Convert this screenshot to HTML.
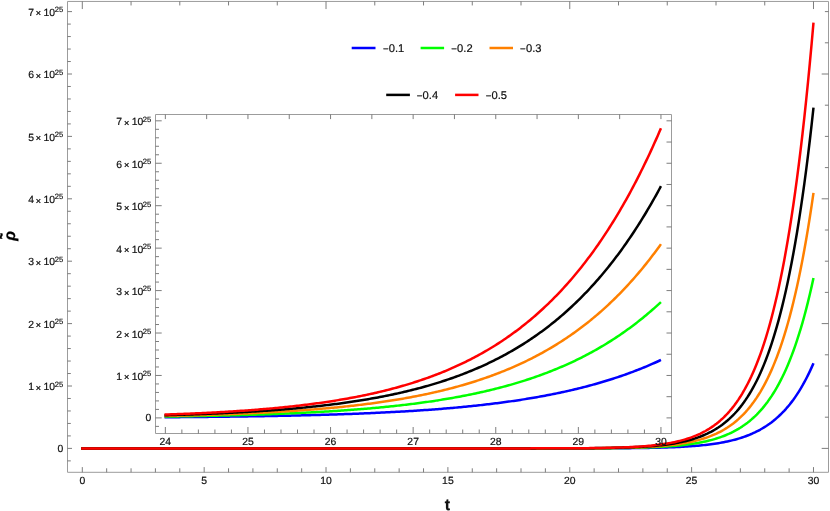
<!DOCTYPE html>
<html lang="en">
<head>
<meta charset="utf-8">
<title>Plot</title>
<style>
html,body{margin:0;padding:0;background:#ffffff;}
body{width:830px;height:511px;overflow:hidden;font-family:"Liberation Sans", sans-serif;}
svg{display:block;will-change:transform;text-rendering:geometricPrecision;}
text{font-family:"Liberation Sans", sans-serif;}
</style>
</head>
<body>
<svg width="830" height="511" viewBox="0 0 830 511">
<rect x="0" y="0" width="830" height="511" fill="#ffffff"/>
<g id="main-frame" fill="none">
<path d="M67.5 1.45L828.5 1.45L828.5 472.3L67.5 472.3Z" stroke="#9c9c9c" stroke-width="1" fill="none" stroke-linejoin="miter"/>
<line x1="82.3" y1="472.3" x2="82.3" y2="467.1" stroke="#6e6e6e" stroke-width="0.9"/>
<line x1="106.67" y1="472.3" x2="106.67" y2="468.3" stroke="#6e6e6e" stroke-width="0.9"/>
<line x1="131.05" y1="472.3" x2="131.05" y2="468.3" stroke="#6e6e6e" stroke-width="0.9"/>
<line x1="155.42" y1="472.3" x2="155.42" y2="468.3" stroke="#6e6e6e" stroke-width="0.9"/>
<line x1="179.79" y1="472.3" x2="179.79" y2="468.3" stroke="#6e6e6e" stroke-width="0.9"/>
<line x1="204.17" y1="472.3" x2="204.17" y2="467.1" stroke="#6e6e6e" stroke-width="0.9"/>
<line x1="228.54" y1="472.3" x2="228.54" y2="468.3" stroke="#6e6e6e" stroke-width="0.9"/>
<line x1="252.91" y1="472.3" x2="252.91" y2="468.3" stroke="#6e6e6e" stroke-width="0.9"/>
<line x1="277.28" y1="472.3" x2="277.28" y2="468.3" stroke="#6e6e6e" stroke-width="0.9"/>
<line x1="301.66" y1="472.3" x2="301.66" y2="468.3" stroke="#6e6e6e" stroke-width="0.9"/>
<line x1="326.03" y1="472.3" x2="326.03" y2="467.1" stroke="#6e6e6e" stroke-width="0.9"/>
<line x1="350.4" y1="472.3" x2="350.4" y2="468.3" stroke="#6e6e6e" stroke-width="0.9"/>
<line x1="374.78" y1="472.3" x2="374.78" y2="468.3" stroke="#6e6e6e" stroke-width="0.9"/>
<line x1="399.15" y1="472.3" x2="399.15" y2="468.3" stroke="#6e6e6e" stroke-width="0.9"/>
<line x1="423.52" y1="472.3" x2="423.52" y2="468.3" stroke="#6e6e6e" stroke-width="0.9"/>
<line x1="447.9" y1="472.3" x2="447.9" y2="467.1" stroke="#6e6e6e" stroke-width="0.9"/>
<line x1="472.27" y1="472.3" x2="472.27" y2="468.3" stroke="#6e6e6e" stroke-width="0.9"/>
<line x1="496.64" y1="472.3" x2="496.64" y2="468.3" stroke="#6e6e6e" stroke-width="0.9"/>
<line x1="521.01" y1="472.3" x2="521.01" y2="468.3" stroke="#6e6e6e" stroke-width="0.9"/>
<line x1="545.39" y1="472.3" x2="545.39" y2="468.3" stroke="#6e6e6e" stroke-width="0.9"/>
<line x1="569.76" y1="472.3" x2="569.76" y2="467.1" stroke="#6e6e6e" stroke-width="0.9"/>
<line x1="594.13" y1="472.3" x2="594.13" y2="468.3" stroke="#6e6e6e" stroke-width="0.9"/>
<line x1="618.51" y1="472.3" x2="618.51" y2="468.3" stroke="#6e6e6e" stroke-width="0.9"/>
<line x1="642.88" y1="472.3" x2="642.88" y2="468.3" stroke="#6e6e6e" stroke-width="0.9"/>
<line x1="667.25" y1="472.3" x2="667.25" y2="468.3" stroke="#6e6e6e" stroke-width="0.9"/>
<line x1="691.62" y1="472.3" x2="691.62" y2="467.1" stroke="#6e6e6e" stroke-width="0.9"/>
<line x1="716" y1="472.3" x2="716" y2="468.3" stroke="#6e6e6e" stroke-width="0.9"/>
<line x1="740.37" y1="472.3" x2="740.37" y2="468.3" stroke="#6e6e6e" stroke-width="0.9"/>
<line x1="764.74" y1="472.3" x2="764.74" y2="468.3" stroke="#6e6e6e" stroke-width="0.9"/>
<line x1="789.12" y1="472.3" x2="789.12" y2="468.3" stroke="#6e6e6e" stroke-width="0.9"/>
<line x1="813.49" y1="472.3" x2="813.49" y2="467.1" stroke="#6e6e6e" stroke-width="0.9"/>
<line x1="82.3" y1="1.45" x2="82.3" y2="9.05" stroke="#6e6e6e" stroke-width="0.9"/>
<line x1="131.05" y1="1.45" x2="131.05" y2="5.45" stroke="#6e6e6e" stroke-width="0.9"/>
<line x1="179.79" y1="1.45" x2="179.79" y2="5.45" stroke="#6e6e6e" stroke-width="0.9"/>
<line x1="228.54" y1="1.45" x2="228.54" y2="5.45" stroke="#6e6e6e" stroke-width="0.9"/>
<line x1="277.28" y1="1.45" x2="277.28" y2="5.45" stroke="#6e6e6e" stroke-width="0.9"/>
<line x1="326.03" y1="1.45" x2="326.03" y2="9.05" stroke="#6e6e6e" stroke-width="0.9"/>
<line x1="374.78" y1="1.45" x2="374.78" y2="5.45" stroke="#6e6e6e" stroke-width="0.9"/>
<line x1="423.52" y1="1.45" x2="423.52" y2="5.45" stroke="#6e6e6e" stroke-width="0.9"/>
<line x1="472.27" y1="1.45" x2="472.27" y2="5.45" stroke="#6e6e6e" stroke-width="0.9"/>
<line x1="521.01" y1="1.45" x2="521.01" y2="5.45" stroke="#6e6e6e" stroke-width="0.9"/>
<line x1="569.76" y1="1.45" x2="569.76" y2="9.05" stroke="#6e6e6e" stroke-width="0.9"/>
<line x1="618.51" y1="1.45" x2="618.51" y2="5.45" stroke="#6e6e6e" stroke-width="0.9"/>
<line x1="667.25" y1="1.45" x2="667.25" y2="5.45" stroke="#6e6e6e" stroke-width="0.9"/>
<line x1="716" y1="1.45" x2="716" y2="5.45" stroke="#6e6e6e" stroke-width="0.9"/>
<line x1="764.74" y1="1.45" x2="764.74" y2="5.45" stroke="#6e6e6e" stroke-width="0.9"/>
<line x1="813.49" y1="1.45" x2="813.49" y2="9.05" stroke="#6e6e6e" stroke-width="0.9"/>
<line x1="67.5" y1="460.88" x2="70.8" y2="460.88" stroke="#6e6e6e" stroke-width="0.9"/>
<line x1="67.5" y1="448.4" x2="72" y2="448.4" stroke="#6e6e6e" stroke-width="0.9"/>
<line x1="67.5" y1="435.92" x2="70.8" y2="435.92" stroke="#6e6e6e" stroke-width="0.9"/>
<line x1="67.5" y1="423.44" x2="70.8" y2="423.44" stroke="#6e6e6e" stroke-width="0.9"/>
<line x1="67.5" y1="410.96" x2="70.8" y2="410.96" stroke="#6e6e6e" stroke-width="0.9"/>
<line x1="67.5" y1="398.48" x2="70.8" y2="398.48" stroke="#6e6e6e" stroke-width="0.9"/>
<line x1="67.5" y1="386" x2="72" y2="386" stroke="#6e6e6e" stroke-width="0.9"/>
<line x1="67.5" y1="373.52" x2="70.8" y2="373.52" stroke="#6e6e6e" stroke-width="0.9"/>
<line x1="67.5" y1="361.04" x2="70.8" y2="361.04" stroke="#6e6e6e" stroke-width="0.9"/>
<line x1="67.5" y1="348.56" x2="70.8" y2="348.56" stroke="#6e6e6e" stroke-width="0.9"/>
<line x1="67.5" y1="336.08" x2="70.8" y2="336.08" stroke="#6e6e6e" stroke-width="0.9"/>
<line x1="67.5" y1="323.6" x2="72" y2="323.6" stroke="#6e6e6e" stroke-width="0.9"/>
<line x1="67.5" y1="311.12" x2="70.8" y2="311.12" stroke="#6e6e6e" stroke-width="0.9"/>
<line x1="67.5" y1="298.64" x2="70.8" y2="298.64" stroke="#6e6e6e" stroke-width="0.9"/>
<line x1="67.5" y1="286.16" x2="70.8" y2="286.16" stroke="#6e6e6e" stroke-width="0.9"/>
<line x1="67.5" y1="273.68" x2="70.8" y2="273.68" stroke="#6e6e6e" stroke-width="0.9"/>
<line x1="67.5" y1="261.2" x2="72" y2="261.2" stroke="#6e6e6e" stroke-width="0.9"/>
<line x1="67.5" y1="248.72" x2="70.8" y2="248.72" stroke="#6e6e6e" stroke-width="0.9"/>
<line x1="67.5" y1="236.24" x2="70.8" y2="236.24" stroke="#6e6e6e" stroke-width="0.9"/>
<line x1="67.5" y1="223.76" x2="70.8" y2="223.76" stroke="#6e6e6e" stroke-width="0.9"/>
<line x1="67.5" y1="211.28" x2="70.8" y2="211.28" stroke="#6e6e6e" stroke-width="0.9"/>
<line x1="67.5" y1="198.8" x2="72" y2="198.8" stroke="#6e6e6e" stroke-width="0.9"/>
<line x1="67.5" y1="186.32" x2="70.8" y2="186.32" stroke="#6e6e6e" stroke-width="0.9"/>
<line x1="67.5" y1="173.84" x2="70.8" y2="173.84" stroke="#6e6e6e" stroke-width="0.9"/>
<line x1="67.5" y1="161.36" x2="70.8" y2="161.36" stroke="#6e6e6e" stroke-width="0.9"/>
<line x1="67.5" y1="148.88" x2="70.8" y2="148.88" stroke="#6e6e6e" stroke-width="0.9"/>
<line x1="67.5" y1="136.4" x2="72" y2="136.4" stroke="#6e6e6e" stroke-width="0.9"/>
<line x1="67.5" y1="123.92" x2="70.8" y2="123.92" stroke="#6e6e6e" stroke-width="0.9"/>
<line x1="67.5" y1="111.44" x2="70.8" y2="111.44" stroke="#6e6e6e" stroke-width="0.9"/>
<line x1="67.5" y1="98.96" x2="70.8" y2="98.96" stroke="#6e6e6e" stroke-width="0.9"/>
<line x1="67.5" y1="86.48" x2="70.8" y2="86.48" stroke="#6e6e6e" stroke-width="0.9"/>
<line x1="67.5" y1="74" x2="72" y2="74" stroke="#6e6e6e" stroke-width="0.9"/>
<line x1="67.5" y1="61.52" x2="70.8" y2="61.52" stroke="#6e6e6e" stroke-width="0.9"/>
<line x1="67.5" y1="49.04" x2="70.8" y2="49.04" stroke="#6e6e6e" stroke-width="0.9"/>
<line x1="67.5" y1="36.56" x2="70.8" y2="36.56" stroke="#6e6e6e" stroke-width="0.9"/>
<line x1="67.5" y1="24.08" x2="70.8" y2="24.08" stroke="#6e6e6e" stroke-width="0.9"/>
<line x1="67.5" y1="11.6" x2="72" y2="11.6" stroke="#6e6e6e" stroke-width="0.9"/>
<line x1="828.5" y1="448.4" x2="821.7" y2="448.4" stroke="#6e6e6e" stroke-width="0.9"/>
<line x1="828.5" y1="417.2" x2="824.9" y2="417.2" stroke="#6e6e6e" stroke-width="0.9"/>
<line x1="828.5" y1="386" x2="824.9" y2="386" stroke="#6e6e6e" stroke-width="0.9"/>
<line x1="828.5" y1="354.8" x2="824.9" y2="354.8" stroke="#6e6e6e" stroke-width="0.9"/>
<line x1="828.5" y1="323.6" x2="821.7" y2="323.6" stroke="#6e6e6e" stroke-width="0.9"/>
<line x1="828.5" y1="292.4" x2="824.9" y2="292.4" stroke="#6e6e6e" stroke-width="0.9"/>
<line x1="828.5" y1="261.2" x2="824.9" y2="261.2" stroke="#6e6e6e" stroke-width="0.9"/>
<line x1="828.5" y1="230" x2="824.9" y2="230" stroke="#6e6e6e" stroke-width="0.9"/>
<line x1="828.5" y1="198.8" x2="821.7" y2="198.8" stroke="#6e6e6e" stroke-width="0.9"/>
<line x1="828.5" y1="167.6" x2="824.9" y2="167.6" stroke="#6e6e6e" stroke-width="0.9"/>
<line x1="828.5" y1="136.4" x2="824.9" y2="136.4" stroke="#6e6e6e" stroke-width="0.9"/>
<line x1="828.5" y1="105.2" x2="824.9" y2="105.2" stroke="#6e6e6e" stroke-width="0.9"/>
<line x1="828.5" y1="74" x2="821.7" y2="74" stroke="#6e6e6e" stroke-width="0.9"/>
<line x1="828.5" y1="42.8" x2="824.9" y2="42.8" stroke="#6e6e6e" stroke-width="0.9"/>
<line x1="828.5" y1="11.6" x2="824.9" y2="11.6" stroke="#6e6e6e" stroke-width="0.9"/>
</g>
<g id="main-labels" font-family='"Liberation Sans", sans-serif'>
<text x="82.3" y="483.8" font-size="10.4" text-anchor="middle" font-weight="normal" font-style="normal" fill="#101010" stroke="#101010" stroke-width="0.2">0</text>
<text x="204.17" y="483.8" font-size="10.4" text-anchor="middle" font-weight="normal" font-style="normal" fill="#101010" stroke="#101010" stroke-width="0.2">5</text>
<text x="326.03" y="483.8" font-size="10.4" text-anchor="middle" font-weight="normal" font-style="normal" fill="#101010" stroke="#101010" stroke-width="0.2">10</text>
<text x="447.9" y="483.8" font-size="10.4" text-anchor="middle" font-weight="normal" font-style="normal" fill="#101010" stroke="#101010" stroke-width="0.2">15</text>
<text x="569.76" y="483.8" font-size="10.4" text-anchor="middle" font-weight="normal" font-style="normal" fill="#101010" stroke="#101010" stroke-width="0.2">20</text>
<text x="691.62" y="483.8" font-size="10.4" text-anchor="middle" font-weight="normal" font-style="normal" fill="#101010" stroke="#101010" stroke-width="0.2">25</text>
<text x="813.49" y="483.8" font-size="10.4" text-anchor="middle" font-weight="normal" font-style="normal" fill="#101010" stroke="#101010" stroke-width="0.2">30</text>
<text x="63.2" y="452" font-size="10.4" text-anchor="end" font-weight="normal" font-style="normal" fill="#101010" stroke="#101010" stroke-width="0.2">0</text>
<text x="28.24" y="390.2" font-size="10.4" text-anchor="start" font-weight="normal" font-style="normal" fill="#101010" stroke="#101010" stroke-width="0.2">1</text>
<text x="38.44" y="390.7" font-size="9.0" text-anchor="middle" font-weight="normal" font-style="normal" fill="#101010" stroke="#101010" stroke-width="0.35">×</text>
<text x="43.54" y="390.2" font-size="10.4" text-anchor="start" font-weight="normal" font-style="normal" fill="#101010" stroke="#101010" stroke-width="0.2">10</text>
<text x="54.74" y="386.5" font-size="7.6" text-anchor="start" font-weight="normal" font-style="normal" fill="#101010" stroke="#101010" stroke-width="0.18">25</text>
<text x="28.24" y="327.8" font-size="10.4" text-anchor="start" font-weight="normal" font-style="normal" fill="#101010" stroke="#101010" stroke-width="0.2">2</text>
<text x="38.44" y="328.3" font-size="9.0" text-anchor="middle" font-weight="normal" font-style="normal" fill="#101010" stroke="#101010" stroke-width="0.35">×</text>
<text x="43.54" y="327.8" font-size="10.4" text-anchor="start" font-weight="normal" font-style="normal" fill="#101010" stroke="#101010" stroke-width="0.2">10</text>
<text x="54.74" y="324.1" font-size="7.6" text-anchor="start" font-weight="normal" font-style="normal" fill="#101010" stroke="#101010" stroke-width="0.18">25</text>
<text x="28.24" y="265.4" font-size="10.4" text-anchor="start" font-weight="normal" font-style="normal" fill="#101010" stroke="#101010" stroke-width="0.2">3</text>
<text x="38.44" y="265.9" font-size="9.0" text-anchor="middle" font-weight="normal" font-style="normal" fill="#101010" stroke="#101010" stroke-width="0.35">×</text>
<text x="43.54" y="265.4" font-size="10.4" text-anchor="start" font-weight="normal" font-style="normal" fill="#101010" stroke="#101010" stroke-width="0.2">10</text>
<text x="54.74" y="261.7" font-size="7.6" text-anchor="start" font-weight="normal" font-style="normal" fill="#101010" stroke="#101010" stroke-width="0.18">25</text>
<text x="28.24" y="203" font-size="10.4" text-anchor="start" font-weight="normal" font-style="normal" fill="#101010" stroke="#101010" stroke-width="0.2">4</text>
<text x="38.44" y="203.5" font-size="9.0" text-anchor="middle" font-weight="normal" font-style="normal" fill="#101010" stroke="#101010" stroke-width="0.35">×</text>
<text x="43.54" y="203" font-size="10.4" text-anchor="start" font-weight="normal" font-style="normal" fill="#101010" stroke="#101010" stroke-width="0.2">10</text>
<text x="54.74" y="199.3" font-size="7.6" text-anchor="start" font-weight="normal" font-style="normal" fill="#101010" stroke="#101010" stroke-width="0.18">25</text>
<text x="28.24" y="140.6" font-size="10.4" text-anchor="start" font-weight="normal" font-style="normal" fill="#101010" stroke="#101010" stroke-width="0.2">5</text>
<text x="38.44" y="141.1" font-size="9.0" text-anchor="middle" font-weight="normal" font-style="normal" fill="#101010" stroke="#101010" stroke-width="0.35">×</text>
<text x="43.54" y="140.6" font-size="10.4" text-anchor="start" font-weight="normal" font-style="normal" fill="#101010" stroke="#101010" stroke-width="0.2">10</text>
<text x="54.74" y="136.9" font-size="7.6" text-anchor="start" font-weight="normal" font-style="normal" fill="#101010" stroke="#101010" stroke-width="0.18">25</text>
<text x="28.24" y="78.2" font-size="10.4" text-anchor="start" font-weight="normal" font-style="normal" fill="#101010" stroke="#101010" stroke-width="0.2">6</text>
<text x="38.44" y="78.7" font-size="9.0" text-anchor="middle" font-weight="normal" font-style="normal" fill="#101010" stroke="#101010" stroke-width="0.35">×</text>
<text x="43.54" y="78.2" font-size="10.4" text-anchor="start" font-weight="normal" font-style="normal" fill="#101010" stroke="#101010" stroke-width="0.2">10</text>
<text x="54.74" y="74.5" font-size="7.6" text-anchor="start" font-weight="normal" font-style="normal" fill="#101010" stroke="#101010" stroke-width="0.18">25</text>
<text x="28.24" y="15.8" font-size="10.4" text-anchor="start" font-weight="normal" font-style="normal" fill="#101010" stroke="#101010" stroke-width="0.2">7</text>
<text x="38.44" y="16.3" font-size="9.0" text-anchor="middle" font-weight="normal" font-style="normal" fill="#101010" stroke="#101010" stroke-width="0.35">×</text>
<text x="43.54" y="15.8" font-size="10.4" text-anchor="start" font-weight="normal" font-style="normal" fill="#101010" stroke="#101010" stroke-width="0.2">10</text>
<text x="54.74" y="12.1" font-size="7.6" text-anchor="start" font-weight="normal" font-style="normal" fill="#101010" stroke="#101010" stroke-width="0.18">25</text>
</g>
<g id="main-curves" fill="none" stroke-width="2.5" stroke-linecap="butt" stroke-linejoin="round">
<path d="M81.20 448.40L83.03 448.40L84.86 448.40L86.70 448.40L88.53 448.40L90.36 448.40L92.19 448.40L94.02 448.40L95.85 448.40L97.68 448.40L99.51 448.40L101.34 448.40L103.17 448.40L105.00 448.40L106.83 448.40L108.66 448.40L110.49 448.40L112.33 448.40L114.16 448.40L115.99 448.40L117.82 448.40L119.65 448.40L121.48 448.40L123.31 448.40L125.14 448.40L126.97 448.40L128.80 448.40L130.63 448.40L132.46 448.40L134.29 448.40L136.12 448.40L137.96 448.40L139.79 448.40L141.62 448.40L143.45 448.40L145.28 448.40L147.11 448.40L148.94 448.40L150.77 448.40L152.60 448.40L154.43 448.40L156.26 448.40L158.09 448.40L159.92 448.40L161.75 448.40L163.59 448.40L165.42 448.40L167.25 448.40L169.08 448.40L170.91 448.40L172.74 448.40L174.57 448.40L176.40 448.40L178.23 448.40L180.06 448.40L181.89 448.40L183.72 448.40L185.55 448.40L187.38 448.40L189.22 448.40L191.05 448.40L192.88 448.40L194.71 448.40L196.54 448.40L198.37 448.40L200.20 448.40L202.03 448.40L203.86 448.40L205.69 448.40L207.52 448.40L209.35 448.40L211.18 448.40L213.01 448.40L214.85 448.40L216.68 448.40L218.51 448.40L220.34 448.40L222.17 448.40L224.00 448.40L225.83 448.40L227.66 448.40L229.49 448.40L231.32 448.40L233.15 448.40L234.98 448.40L236.81 448.40L238.64 448.40L240.48 448.40L242.31 448.40L244.14 448.40L245.97 448.40L247.80 448.40L249.63 448.40L251.46 448.40L253.29 448.40L255.12 448.40L256.95 448.40L258.78 448.40L260.61 448.40L262.44 448.40L264.27 448.40L266.11 448.40L267.94 448.40L269.77 448.40L271.60 448.40L273.43 448.40L275.26 448.40L277.09 448.40L278.92 448.40L280.75 448.40L282.58 448.40L284.41 448.40L286.24 448.40L288.07 448.40L289.90 448.40L291.74 448.40L293.57 448.40L295.40 448.40L297.23 448.40L299.06 448.40L300.89 448.40L302.72 448.40L304.55 448.40L306.38 448.40L308.21 448.40L310.04 448.40L311.87 448.40L313.70 448.40L315.53 448.40L317.37 448.40L319.20 448.40L321.03 448.40L322.86 448.40L324.69 448.40L326.52 448.40L328.35 448.40L330.18 448.40L332.01 448.40L333.84 448.40L335.67 448.40L337.50 448.40L339.33 448.40L341.17 448.40L343.00 448.40L344.83 448.40L346.66 448.40L348.49 448.40L350.32 448.40L352.15 448.40L353.98 448.40L355.81 448.40L357.64 448.40L359.47 448.40L361.30 448.40L363.13 448.40L364.96 448.40L366.80 448.40L368.63 448.40L370.46 448.40L372.29 448.40L374.12 448.40L375.95 448.40L377.78 448.40L379.61 448.40L381.44 448.40L383.27 448.40L385.10 448.40L386.93 448.40L388.76 448.40L390.59 448.40L392.43 448.40L394.26 448.40L396.09 448.40L397.92 448.40L399.75 448.40L401.58 448.40L403.41 448.40L405.24 448.40L407.07 448.40L408.90 448.40L410.73 448.40L412.56 448.40L414.39 448.40L416.22 448.40L418.06 448.40L419.89 448.40L421.72 448.40L423.55 448.40L425.38 448.40L427.21 448.40L429.04 448.40L430.87 448.40L432.70 448.40L434.53 448.40L436.36 448.40L438.19 448.40L440.02 448.40L441.85 448.40L443.69 448.40L445.52 448.40L447.35 448.40L449.18 448.40L451.01 448.40L452.84 448.40L454.67 448.40L456.50 448.40L458.33 448.40L460.16 448.40L461.99 448.40L463.82 448.40L465.65 448.40L467.48 448.40L469.32 448.40L471.15 448.40L472.98 448.40L474.81 448.40L476.64 448.40L478.47 448.40L480.30 448.40L482.13 448.40L483.96 448.40L485.79 448.40L487.62 448.40L489.45 448.40L491.28 448.40L493.11 448.40L494.95 448.40L496.78 448.40L498.61 448.40L500.44 448.40L502.27 448.40L504.10 448.40L505.93 448.40L507.76 448.40L509.59 448.40L511.42 448.40L513.25 448.40L515.08 448.40L516.91 448.40L518.74 448.40L520.58 448.40L522.41 448.40L524.24 448.40L526.07 448.40L527.90 448.40L529.73 448.40L531.56 448.39L533.39 448.39L535.22 448.39L537.05 448.39L538.88 448.39L540.71 448.39L542.54 448.39L544.37 448.39L546.21 448.39L548.04 448.39L549.87 448.39L551.70 448.39L553.53 448.39L555.36 448.39L557.19 448.38L559.02 448.38L560.85 448.38L562.68 448.38L564.51 448.38L566.34 448.38L568.17 448.38L570.00 448.37L571.84 448.37L573.67 448.37L575.50 448.37L577.33 448.37L579.16 448.36L580.99 448.36L582.82 448.36L584.65 448.35L586.48 448.35L588.31 448.35L590.14 448.34L591.97 448.34L593.80 448.33L595.63 448.33L597.47 448.32L599.30 448.32L601.13 448.31L602.96 448.30L604.79 448.30L606.62 448.29L608.45 448.28L610.28 448.27L612.11 448.26L613.94 448.25L615.77 448.24L617.60 448.23L619.43 448.22L621.26 448.21L623.10 448.20L624.93 448.18L626.76 448.17L628.59 448.15L630.42 448.13L632.25 448.11L634.08 448.09L635.91 448.07L637.74 448.05L639.57 448.03L641.40 448.00L643.23 447.98L645.06 447.95L646.89 447.92L648.73 447.88L650.56 447.85L652.39 447.81L654.22 447.77L656.05 447.73L657.88 447.69L659.71 447.64L661.54 447.59L663.37 447.54L665.20 447.48L667.03 447.43L668.86 447.36L670.69 447.30L672.52 447.22L674.36 447.15L676.19 447.07L678.02 446.99L679.85 446.90L681.68 446.80L683.51 446.70L685.34 446.59L687.17 446.48L689.00 446.36L690.83 446.24L692.66 446.10L694.49 445.96L696.32 445.81L698.15 445.65L699.99 445.48L701.82 445.30L703.65 445.12L705.48 444.92L707.31 444.71L709.14 444.48L710.97 444.25L712.80 444.00L714.63 443.74L716.46 443.46L718.29 443.17L720.12 442.86L721.95 442.53L723.78 442.19L725.62 441.82L727.45 441.44L729.28 441.03L731.11 440.60L732.94 440.15L734.77 439.67L736.60 439.17L738.43 438.64L740.26 438.08L742.09 437.49L743.92 436.87L745.75 436.21L747.58 435.52L749.41 434.79L751.25 434.03L753.08 433.22L754.91 432.37L756.74 431.47L758.57 430.53L760.40 429.54L762.23 428.49L764.06 427.39L765.89 426.24L767.72 425.02L769.55 423.74L771.38 422.39L773.21 420.97L775.04 419.48L776.88 417.91L778.71 416.27L780.54 414.53L782.37 412.71L784.20 410.80L786.03 408.79L787.86 406.68L789.69 404.46L791.52 402.12L793.35 399.68L795.18 397.10L797.01 394.41L798.84 391.57L800.67 388.60L802.51 385.47L804.34 382.19L806.17 378.76L808.00 375.15L809.83 371.36L811.66 367.39L813.49 363.22" stroke="#0000ff"/>
<path d="M81.20 448.40L83.03 448.40L84.86 448.40L86.70 448.40L88.53 448.40L90.36 448.40L92.19 448.40L94.02 448.40L95.85 448.40L97.68 448.40L99.51 448.40L101.34 448.40L103.17 448.40L105.00 448.40L106.83 448.40L108.66 448.40L110.49 448.40L112.33 448.40L114.16 448.40L115.99 448.40L117.82 448.40L119.65 448.40L121.48 448.40L123.31 448.40L125.14 448.40L126.97 448.40L128.80 448.40L130.63 448.40L132.46 448.40L134.29 448.40L136.12 448.40L137.96 448.40L139.79 448.40L141.62 448.40L143.45 448.40L145.28 448.40L147.11 448.40L148.94 448.40L150.77 448.40L152.60 448.40L154.43 448.40L156.26 448.40L158.09 448.40L159.92 448.40L161.75 448.40L163.59 448.40L165.42 448.40L167.25 448.40L169.08 448.40L170.91 448.40L172.74 448.40L174.57 448.40L176.40 448.40L178.23 448.40L180.06 448.40L181.89 448.40L183.72 448.40L185.55 448.40L187.38 448.40L189.22 448.40L191.05 448.40L192.88 448.40L194.71 448.40L196.54 448.40L198.37 448.40L200.20 448.40L202.03 448.40L203.86 448.40L205.69 448.40L207.52 448.40L209.35 448.40L211.18 448.40L213.01 448.40L214.85 448.40L216.68 448.40L218.51 448.40L220.34 448.40L222.17 448.40L224.00 448.40L225.83 448.40L227.66 448.40L229.49 448.40L231.32 448.40L233.15 448.40L234.98 448.40L236.81 448.40L238.64 448.40L240.48 448.40L242.31 448.40L244.14 448.40L245.97 448.40L247.80 448.40L249.63 448.40L251.46 448.40L253.29 448.40L255.12 448.40L256.95 448.40L258.78 448.40L260.61 448.40L262.44 448.40L264.27 448.40L266.11 448.40L267.94 448.40L269.77 448.40L271.60 448.40L273.43 448.40L275.26 448.40L277.09 448.40L278.92 448.40L280.75 448.40L282.58 448.40L284.41 448.40L286.24 448.40L288.07 448.40L289.90 448.40L291.74 448.40L293.57 448.40L295.40 448.40L297.23 448.40L299.06 448.40L300.89 448.40L302.72 448.40L304.55 448.40L306.38 448.40L308.21 448.40L310.04 448.40L311.87 448.40L313.70 448.40L315.53 448.40L317.37 448.40L319.20 448.40L321.03 448.40L322.86 448.40L324.69 448.40L326.52 448.40L328.35 448.40L330.18 448.40L332.01 448.40L333.84 448.40L335.67 448.40L337.50 448.40L339.33 448.40L341.17 448.40L343.00 448.40L344.83 448.40L346.66 448.40L348.49 448.40L350.32 448.40L352.15 448.40L353.98 448.40L355.81 448.40L357.64 448.40L359.47 448.40L361.30 448.40L363.13 448.40L364.96 448.40L366.80 448.40L368.63 448.40L370.46 448.40L372.29 448.40L374.12 448.40L375.95 448.40L377.78 448.40L379.61 448.40L381.44 448.40L383.27 448.40L385.10 448.40L386.93 448.40L388.76 448.40L390.59 448.40L392.43 448.40L394.26 448.40L396.09 448.40L397.92 448.40L399.75 448.40L401.58 448.40L403.41 448.40L405.24 448.40L407.07 448.40L408.90 448.40L410.73 448.40L412.56 448.40L414.39 448.40L416.22 448.40L418.06 448.40L419.89 448.40L421.72 448.40L423.55 448.40L425.38 448.40L427.21 448.40L429.04 448.40L430.87 448.40L432.70 448.40L434.53 448.40L436.36 448.40L438.19 448.40L440.02 448.40L441.85 448.40L443.69 448.40L445.52 448.40L447.35 448.40L449.18 448.40L451.01 448.40L452.84 448.40L454.67 448.40L456.50 448.40L458.33 448.40L460.16 448.40L461.99 448.40L463.82 448.40L465.65 448.40L467.48 448.40L469.32 448.40L471.15 448.40L472.98 448.40L474.81 448.40L476.64 448.40L478.47 448.40L480.30 448.40L482.13 448.40L483.96 448.40L485.79 448.40L487.62 448.40L489.45 448.40L491.28 448.40L493.11 448.40L494.95 448.40L496.78 448.40L498.61 448.40L500.44 448.40L502.27 448.40L504.10 448.40L505.93 448.40L507.76 448.40L509.59 448.40L511.42 448.40L513.25 448.40L515.08 448.40L516.91 448.39L518.74 448.39L520.58 448.39L522.41 448.39L524.24 448.39L526.07 448.39L527.90 448.39L529.73 448.39L531.56 448.39L533.39 448.39L535.22 448.39L537.05 448.39L538.88 448.39L540.71 448.39L542.54 448.38L544.37 448.38L546.21 448.38L548.04 448.38L549.87 448.38L551.70 448.38L553.53 448.37L555.36 448.37L557.19 448.37L559.02 448.37L560.85 448.36L562.68 448.36L564.51 448.36L566.34 448.36L568.17 448.35L570.00 448.35L571.84 448.34L573.67 448.34L575.50 448.34L577.33 448.33L579.16 448.32L580.99 448.32L582.82 448.31L584.65 448.31L586.48 448.30L588.31 448.29L590.14 448.28L591.97 448.28L593.80 448.27L595.63 448.26L597.47 448.25L599.30 448.23L601.13 448.22L602.96 448.21L604.79 448.19L606.62 448.18L608.45 448.16L610.28 448.15L612.11 448.13L613.94 448.11L615.77 448.09L617.60 448.07L619.43 448.04L621.26 448.02L623.10 447.99L624.93 447.96L626.76 447.93L628.59 447.90L630.42 447.87L632.25 447.83L634.08 447.79L635.91 447.75L637.74 447.70L639.57 447.66L641.40 447.60L643.23 447.55L645.06 447.49L646.89 447.43L648.73 447.37L650.56 447.30L652.39 447.23L654.22 447.15L656.05 447.07L657.88 446.98L659.71 446.88L661.54 446.79L663.37 446.68L665.20 446.57L667.03 446.45L668.86 446.32L670.69 446.19L672.52 446.05L674.36 445.90L676.19 445.74L678.02 445.57L679.85 445.39L681.68 445.20L683.51 445.00L685.34 444.79L687.17 444.56L689.00 444.32L690.83 444.07L692.66 443.80L694.49 443.52L696.32 443.22L698.15 442.90L699.99 442.56L701.82 442.21L703.65 441.83L705.48 441.43L707.31 441.01L709.14 440.57L710.97 440.10L712.80 439.60L714.63 439.08L716.46 438.52L718.29 437.93L720.12 437.31L721.95 436.66L723.78 435.97L725.62 435.24L727.45 434.47L729.28 433.66L731.11 432.80L732.94 431.90L734.77 430.94L736.60 429.94L738.43 428.88L740.26 427.76L742.09 426.58L743.92 425.34L745.75 424.02L747.58 422.64L749.41 421.19L751.25 419.66L753.08 418.04L754.91 416.34L756.74 414.55L758.57 412.66L760.40 410.68L762.23 408.59L764.06 406.39L765.89 404.07L767.72 401.64L769.55 399.07L771.38 396.38L773.21 393.54L775.04 390.56L776.88 387.43L778.71 384.13L780.54 380.67L782.37 377.03L784.20 373.20L786.03 369.18L787.86 364.95L789.69 360.51L791.52 355.85L793.35 350.95L795.18 345.81L797.01 340.41L798.84 334.74L800.67 328.79L802.51 322.54L804.34 315.99L806.17 309.11L808.00 301.89L809.83 294.32L811.66 286.38L813.49 278.05" stroke="#00ff00"/>
<path d="M81.20 448.40L83.03 448.40L84.86 448.40L86.70 448.40L88.53 448.40L90.36 448.40L92.19 448.40L94.02 448.40L95.85 448.40L97.68 448.40L99.51 448.40L101.34 448.40L103.17 448.40L105.00 448.40L106.83 448.40L108.66 448.40L110.49 448.40L112.33 448.40L114.16 448.40L115.99 448.40L117.82 448.40L119.65 448.40L121.48 448.40L123.31 448.40L125.14 448.40L126.97 448.40L128.80 448.40L130.63 448.40L132.46 448.40L134.29 448.40L136.12 448.40L137.96 448.40L139.79 448.40L141.62 448.40L143.45 448.40L145.28 448.40L147.11 448.40L148.94 448.40L150.77 448.40L152.60 448.40L154.43 448.40L156.26 448.40L158.09 448.40L159.92 448.40L161.75 448.40L163.59 448.40L165.42 448.40L167.25 448.40L169.08 448.40L170.91 448.40L172.74 448.40L174.57 448.40L176.40 448.40L178.23 448.40L180.06 448.40L181.89 448.40L183.72 448.40L185.55 448.40L187.38 448.40L189.22 448.40L191.05 448.40L192.88 448.40L194.71 448.40L196.54 448.40L198.37 448.40L200.20 448.40L202.03 448.40L203.86 448.40L205.69 448.40L207.52 448.40L209.35 448.40L211.18 448.40L213.01 448.40L214.85 448.40L216.68 448.40L218.51 448.40L220.34 448.40L222.17 448.40L224.00 448.40L225.83 448.40L227.66 448.40L229.49 448.40L231.32 448.40L233.15 448.40L234.98 448.40L236.81 448.40L238.64 448.40L240.48 448.40L242.31 448.40L244.14 448.40L245.97 448.40L247.80 448.40L249.63 448.40L251.46 448.40L253.29 448.40L255.12 448.40L256.95 448.40L258.78 448.40L260.61 448.40L262.44 448.40L264.27 448.40L266.11 448.40L267.94 448.40L269.77 448.40L271.60 448.40L273.43 448.40L275.26 448.40L277.09 448.40L278.92 448.40L280.75 448.40L282.58 448.40L284.41 448.40L286.24 448.40L288.07 448.40L289.90 448.40L291.74 448.40L293.57 448.40L295.40 448.40L297.23 448.40L299.06 448.40L300.89 448.40L302.72 448.40L304.55 448.40L306.38 448.40L308.21 448.40L310.04 448.40L311.87 448.40L313.70 448.40L315.53 448.40L317.37 448.40L319.20 448.40L321.03 448.40L322.86 448.40L324.69 448.40L326.52 448.40L328.35 448.40L330.18 448.40L332.01 448.40L333.84 448.40L335.67 448.40L337.50 448.40L339.33 448.40L341.17 448.40L343.00 448.40L344.83 448.40L346.66 448.40L348.49 448.40L350.32 448.40L352.15 448.40L353.98 448.40L355.81 448.40L357.64 448.40L359.47 448.40L361.30 448.40L363.13 448.40L364.96 448.40L366.80 448.40L368.63 448.40L370.46 448.40L372.29 448.40L374.12 448.40L375.95 448.40L377.78 448.40L379.61 448.40L381.44 448.40L383.27 448.40L385.10 448.40L386.93 448.40L388.76 448.40L390.59 448.40L392.43 448.40L394.26 448.40L396.09 448.40L397.92 448.40L399.75 448.40L401.58 448.40L403.41 448.40L405.24 448.40L407.07 448.40L408.90 448.40L410.73 448.40L412.56 448.40L414.39 448.40L416.22 448.40L418.06 448.40L419.89 448.40L421.72 448.40L423.55 448.40L425.38 448.40L427.21 448.40L429.04 448.40L430.87 448.40L432.70 448.40L434.53 448.40L436.36 448.40L438.19 448.40L440.02 448.40L441.85 448.40L443.69 448.40L445.52 448.40L447.35 448.40L449.18 448.40L451.01 448.40L452.84 448.40L454.67 448.40L456.50 448.40L458.33 448.40L460.16 448.40L461.99 448.40L463.82 448.40L465.65 448.40L467.48 448.40L469.32 448.40L471.15 448.40L472.98 448.40L474.81 448.40L476.64 448.40L478.47 448.40L480.30 448.40L482.13 448.40L483.96 448.40L485.79 448.40L487.62 448.40L489.45 448.40L491.28 448.40L493.11 448.40L494.95 448.40L496.78 448.40L498.61 448.40L500.44 448.40L502.27 448.40L504.10 448.40L505.93 448.40L507.76 448.39L509.59 448.39L511.42 448.39L513.25 448.39L515.08 448.39L516.91 448.39L518.74 448.39L520.58 448.39L522.41 448.39L524.24 448.39L526.07 448.39L527.90 448.39L529.73 448.39L531.56 448.38L533.39 448.38L535.22 448.38L537.05 448.38L538.88 448.38L540.71 448.38L542.54 448.38L544.37 448.37L546.21 448.37L548.04 448.37L549.87 448.37L551.70 448.36L553.53 448.36L555.36 448.36L557.19 448.35L559.02 448.35L560.85 448.35L562.68 448.34L564.51 448.34L566.34 448.33L568.17 448.33L570.00 448.32L571.84 448.32L573.67 448.31L575.50 448.30L577.33 448.30L579.16 448.29L580.99 448.28L582.82 448.27L584.65 448.26L586.48 448.25L588.31 448.24L590.14 448.23L591.97 448.21L593.80 448.20L595.63 448.18L597.47 448.17L599.30 448.15L601.13 448.13L602.96 448.11L604.79 448.09L606.62 448.07L608.45 448.05L610.28 448.02L612.11 447.99L613.94 447.96L615.77 447.93L617.60 447.90L619.43 447.86L621.26 447.83L623.10 447.79L624.93 447.74L626.76 447.70L628.59 447.65L630.42 447.60L632.25 447.54L634.08 447.48L635.91 447.42L637.74 447.35L639.57 447.28L641.40 447.21L643.23 447.13L645.06 447.04L646.89 446.95L648.73 446.85L650.56 446.75L652.39 446.64L654.22 446.52L656.05 446.40L657.88 446.27L659.71 446.13L661.54 445.98L663.37 445.82L665.20 445.65L667.03 445.48L668.86 445.29L670.69 445.09L672.52 444.87L674.36 444.65L676.19 444.41L678.02 444.16L679.85 443.89L681.68 443.60L683.51 443.30L685.34 442.98L687.17 442.64L689.00 442.29L690.83 441.91L692.66 441.50L694.49 441.08L696.32 440.63L698.15 440.15L699.99 439.65L701.82 439.11L703.65 438.55L705.48 437.95L707.31 437.32L709.14 436.65L710.97 435.95L712.80 435.20L714.63 434.41L716.46 433.58L718.29 432.70L720.12 431.77L721.95 430.79L723.78 429.76L725.62 428.66L727.45 427.51L729.28 426.29L731.11 425.00L732.94 423.65L734.77 422.22L736.60 420.71L738.43 419.12L740.26 417.44L742.09 415.67L743.92 413.80L745.75 411.84L747.58 409.77L749.41 407.58L751.25 405.28L753.08 402.86L754.91 400.31L756.74 397.62L758.57 394.79L760.40 391.82L762.23 388.68L764.06 385.38L765.89 381.91L767.72 378.26L769.55 374.41L771.38 370.37L773.21 366.12L775.04 361.64L776.88 356.94L778.71 352.00L780.54 346.80L782.37 341.34L784.20 335.60L786.03 329.56L787.86 323.23L789.69 316.57L791.52 309.57L793.35 302.23L795.18 294.51L797.01 286.42L798.84 277.91L800.67 268.99L802.51 259.62L804.34 249.78L806.17 239.47L808.00 228.64L809.83 217.28L811.66 205.37L813.49 192.87" stroke="#ff8000"/>
<path d="M81.20 448.40L83.03 448.40L84.86 448.40L86.70 448.40L88.53 448.40L90.36 448.40L92.19 448.40L94.02 448.40L95.85 448.40L97.68 448.40L99.51 448.40L101.34 448.40L103.17 448.40L105.00 448.40L106.83 448.40L108.66 448.40L110.49 448.40L112.33 448.40L114.16 448.40L115.99 448.40L117.82 448.40L119.65 448.40L121.48 448.40L123.31 448.40L125.14 448.40L126.97 448.40L128.80 448.40L130.63 448.40L132.46 448.40L134.29 448.40L136.12 448.40L137.96 448.40L139.79 448.40L141.62 448.40L143.45 448.40L145.28 448.40L147.11 448.40L148.94 448.40L150.77 448.40L152.60 448.40L154.43 448.40L156.26 448.40L158.09 448.40L159.92 448.40L161.75 448.40L163.59 448.40L165.42 448.40L167.25 448.40L169.08 448.40L170.91 448.40L172.74 448.40L174.57 448.40L176.40 448.40L178.23 448.40L180.06 448.40L181.89 448.40L183.72 448.40L185.55 448.40L187.38 448.40L189.22 448.40L191.05 448.40L192.88 448.40L194.71 448.40L196.54 448.40L198.37 448.40L200.20 448.40L202.03 448.40L203.86 448.40L205.69 448.40L207.52 448.40L209.35 448.40L211.18 448.40L213.01 448.40L214.85 448.40L216.68 448.40L218.51 448.40L220.34 448.40L222.17 448.40L224.00 448.40L225.83 448.40L227.66 448.40L229.49 448.40L231.32 448.40L233.15 448.40L234.98 448.40L236.81 448.40L238.64 448.40L240.48 448.40L242.31 448.40L244.14 448.40L245.97 448.40L247.80 448.40L249.63 448.40L251.46 448.40L253.29 448.40L255.12 448.40L256.95 448.40L258.78 448.40L260.61 448.40L262.44 448.40L264.27 448.40L266.11 448.40L267.94 448.40L269.77 448.40L271.60 448.40L273.43 448.40L275.26 448.40L277.09 448.40L278.92 448.40L280.75 448.40L282.58 448.40L284.41 448.40L286.24 448.40L288.07 448.40L289.90 448.40L291.74 448.40L293.57 448.40L295.40 448.40L297.23 448.40L299.06 448.40L300.89 448.40L302.72 448.40L304.55 448.40L306.38 448.40L308.21 448.40L310.04 448.40L311.87 448.40L313.70 448.40L315.53 448.40L317.37 448.40L319.20 448.40L321.03 448.40L322.86 448.40L324.69 448.40L326.52 448.40L328.35 448.40L330.18 448.40L332.01 448.40L333.84 448.40L335.67 448.40L337.50 448.40L339.33 448.40L341.17 448.40L343.00 448.40L344.83 448.40L346.66 448.40L348.49 448.40L350.32 448.40L352.15 448.40L353.98 448.40L355.81 448.40L357.64 448.40L359.47 448.40L361.30 448.40L363.13 448.40L364.96 448.40L366.80 448.40L368.63 448.40L370.46 448.40L372.29 448.40L374.12 448.40L375.95 448.40L377.78 448.40L379.61 448.40L381.44 448.40L383.27 448.40L385.10 448.40L386.93 448.40L388.76 448.40L390.59 448.40L392.43 448.40L394.26 448.40L396.09 448.40L397.92 448.40L399.75 448.40L401.58 448.40L403.41 448.40L405.24 448.40L407.07 448.40L408.90 448.40L410.73 448.40L412.56 448.40L414.39 448.40L416.22 448.40L418.06 448.40L419.89 448.40L421.72 448.40L423.55 448.40L425.38 448.40L427.21 448.40L429.04 448.40L430.87 448.40L432.70 448.40L434.53 448.40L436.36 448.40L438.19 448.40L440.02 448.40L441.85 448.40L443.69 448.40L445.52 448.40L447.35 448.40L449.18 448.40L451.01 448.40L452.84 448.40L454.67 448.40L456.50 448.40L458.33 448.40L460.16 448.40L461.99 448.40L463.82 448.40L465.65 448.40L467.48 448.40L469.32 448.40L471.15 448.40L472.98 448.40L474.81 448.40L476.64 448.40L478.47 448.40L480.30 448.40L482.13 448.40L483.96 448.40L485.79 448.40L487.62 448.40L489.45 448.40L491.28 448.40L493.11 448.40L494.95 448.40L496.78 448.40L498.61 448.40L500.44 448.40L502.27 448.39L504.10 448.39L505.93 448.39L507.76 448.39L509.59 448.39L511.42 448.39L513.25 448.39L515.08 448.39L516.91 448.39L518.74 448.39L520.58 448.39L522.41 448.39L524.24 448.39L526.07 448.38L527.90 448.38L529.73 448.38L531.56 448.38L533.39 448.38L535.22 448.38L537.05 448.37L538.88 448.37L540.71 448.37L542.54 448.37L544.37 448.36L546.21 448.36L548.04 448.36L549.87 448.36L551.70 448.35L553.53 448.35L555.36 448.34L557.19 448.34L559.02 448.33L560.85 448.33L562.68 448.32L564.51 448.32L566.34 448.31L568.17 448.30L570.00 448.30L571.84 448.29L573.67 448.28L575.50 448.27L577.33 448.26L579.16 448.25L580.99 448.24L582.82 448.23L584.65 448.21L586.48 448.20L588.31 448.18L590.14 448.17L591.97 448.15L593.80 448.13L595.63 448.11L597.47 448.09L599.30 448.07L601.13 448.04L602.96 448.02L604.79 447.99L606.62 447.96L608.45 447.93L610.28 447.89L612.11 447.86L613.94 447.82L615.77 447.78L617.60 447.73L619.43 447.69L621.26 447.64L623.10 447.58L624.93 447.53L626.76 447.46L628.59 447.40L630.42 447.33L632.25 447.26L634.08 447.18L635.91 447.09L637.74 447.01L639.57 446.91L641.40 446.81L643.23 446.70L645.06 446.59L646.89 446.47L648.73 446.34L650.56 446.20L652.39 446.05L654.22 445.90L656.05 445.73L657.88 445.56L659.71 445.37L661.54 445.17L663.37 444.96L665.20 444.74L667.03 444.50L668.86 444.25L670.69 443.98L672.52 443.70L674.36 443.40L676.19 443.08L678.02 442.74L679.85 442.39L681.68 442.01L683.51 441.60L685.34 441.18L687.17 440.73L689.00 440.25L690.83 439.74L692.66 439.21L694.49 438.64L696.32 438.04L698.15 437.40L699.99 436.73L701.82 436.02L703.65 435.26L705.48 434.47L707.31 433.63L709.14 432.74L710.97 431.80L712.80 430.80L714.63 429.75L716.46 428.64L718.29 427.47L720.12 426.23L721.95 424.92L723.78 423.54L725.62 422.08L727.45 420.54L729.28 418.92L731.11 417.20L732.94 415.40L734.77 413.49L736.60 411.48L738.43 409.35L740.26 407.12L742.09 404.76L743.92 402.27L745.75 399.65L747.58 396.89L749.41 393.98L751.25 390.91L753.08 387.68L754.91 384.28L756.74 380.70L758.57 376.92L760.40 372.95L762.23 368.77L764.06 364.37L765.89 359.74L767.72 354.87L769.55 349.75L771.38 344.36L773.21 338.69L775.04 332.72L776.88 326.46L778.71 319.86L780.54 312.93L782.37 305.65L784.20 298.00L786.03 289.95L787.86 281.50L789.69 272.62L791.52 263.30L793.35 253.50L795.18 243.22L797.01 232.42L798.84 221.08L800.67 209.18L802.51 196.69L804.34 183.58L806.17 169.82L808.00 155.39L809.83 140.24L811.66 124.36L813.49 107.70" stroke="#000000"/>
<path d="M81.20 448.40L83.03 448.40L84.86 448.40L86.70 448.40L88.53 448.40L90.36 448.40L92.19 448.40L94.02 448.40L95.85 448.40L97.68 448.40L99.51 448.40L101.34 448.40L103.17 448.40L105.00 448.40L106.83 448.40L108.66 448.40L110.49 448.40L112.33 448.40L114.16 448.40L115.99 448.40L117.82 448.40L119.65 448.40L121.48 448.40L123.31 448.40L125.14 448.40L126.97 448.40L128.80 448.40L130.63 448.40L132.46 448.40L134.29 448.40L136.12 448.40L137.96 448.40L139.79 448.40L141.62 448.40L143.45 448.40L145.28 448.40L147.11 448.40L148.94 448.40L150.77 448.40L152.60 448.40L154.43 448.40L156.26 448.40L158.09 448.40L159.92 448.40L161.75 448.40L163.59 448.40L165.42 448.40L167.25 448.40L169.08 448.40L170.91 448.40L172.74 448.40L174.57 448.40L176.40 448.40L178.23 448.40L180.06 448.40L181.89 448.40L183.72 448.40L185.55 448.40L187.38 448.40L189.22 448.40L191.05 448.40L192.88 448.40L194.71 448.40L196.54 448.40L198.37 448.40L200.20 448.40L202.03 448.40L203.86 448.40L205.69 448.40L207.52 448.40L209.35 448.40L211.18 448.40L213.01 448.40L214.85 448.40L216.68 448.40L218.51 448.40L220.34 448.40L222.17 448.40L224.00 448.40L225.83 448.40L227.66 448.40L229.49 448.40L231.32 448.40L233.15 448.40L234.98 448.40L236.81 448.40L238.64 448.40L240.48 448.40L242.31 448.40L244.14 448.40L245.97 448.40L247.80 448.40L249.63 448.40L251.46 448.40L253.29 448.40L255.12 448.40L256.95 448.40L258.78 448.40L260.61 448.40L262.44 448.40L264.27 448.40L266.11 448.40L267.94 448.40L269.77 448.40L271.60 448.40L273.43 448.40L275.26 448.40L277.09 448.40L278.92 448.40L280.75 448.40L282.58 448.40L284.41 448.40L286.24 448.40L288.07 448.40L289.90 448.40L291.74 448.40L293.57 448.40L295.40 448.40L297.23 448.40L299.06 448.40L300.89 448.40L302.72 448.40L304.55 448.40L306.38 448.40L308.21 448.40L310.04 448.40L311.87 448.40L313.70 448.40L315.53 448.40L317.37 448.40L319.20 448.40L321.03 448.40L322.86 448.40L324.69 448.40L326.52 448.40L328.35 448.40L330.18 448.40L332.01 448.40L333.84 448.40L335.67 448.40L337.50 448.40L339.33 448.40L341.17 448.40L343.00 448.40L344.83 448.40L346.66 448.40L348.49 448.40L350.32 448.40L352.15 448.40L353.98 448.40L355.81 448.40L357.64 448.40L359.47 448.40L361.30 448.40L363.13 448.40L364.96 448.40L366.80 448.40L368.63 448.40L370.46 448.40L372.29 448.40L374.12 448.40L375.95 448.40L377.78 448.40L379.61 448.40L381.44 448.40L383.27 448.40L385.10 448.40L386.93 448.40L388.76 448.40L390.59 448.40L392.43 448.40L394.26 448.40L396.09 448.40L397.92 448.40L399.75 448.40L401.58 448.40L403.41 448.40L405.24 448.40L407.07 448.40L408.90 448.40L410.73 448.40L412.56 448.40L414.39 448.40L416.22 448.40L418.06 448.40L419.89 448.40L421.72 448.40L423.55 448.40L425.38 448.40L427.21 448.40L429.04 448.40L430.87 448.40L432.70 448.40L434.53 448.40L436.36 448.40L438.19 448.40L440.02 448.40L441.85 448.40L443.69 448.40L445.52 448.40L447.35 448.40L449.18 448.40L451.01 448.40L452.84 448.40L454.67 448.40L456.50 448.40L458.33 448.40L460.16 448.40L461.99 448.40L463.82 448.40L465.65 448.40L467.48 448.40L469.32 448.40L471.15 448.40L472.98 448.40L474.81 448.40L476.64 448.40L478.47 448.40L480.30 448.40L482.13 448.40L483.96 448.40L485.79 448.40L487.62 448.40L489.45 448.40L491.28 448.40L493.11 448.40L494.95 448.40L496.78 448.40L498.61 448.39L500.44 448.39L502.27 448.39L504.10 448.39L505.93 448.39L507.76 448.39L509.59 448.39L511.42 448.39L513.25 448.39L515.08 448.39L516.91 448.39L518.74 448.39L520.58 448.38L522.41 448.38L524.24 448.38L526.07 448.38L527.90 448.38L529.73 448.38L531.56 448.37L533.39 448.37L535.22 448.37L537.05 448.37L538.88 448.37L540.71 448.36L542.54 448.36L544.37 448.36L546.21 448.35L548.04 448.35L549.87 448.34L551.70 448.34L553.53 448.33L555.36 448.33L557.19 448.32L559.02 448.32L560.85 448.31L562.68 448.30L564.51 448.30L566.34 448.29L568.17 448.28L570.00 448.27L571.84 448.26L573.67 448.25L575.50 448.24L577.33 448.23L579.16 448.21L580.99 448.20L582.82 448.18L584.65 448.17L586.48 448.15L588.31 448.13L590.14 448.11L591.97 448.09L593.80 448.06L595.63 448.04L597.47 448.01L599.30 447.98L601.13 447.95L602.96 447.92L604.79 447.89L606.62 447.85L608.45 447.81L610.28 447.77L612.11 447.72L613.94 447.67L615.77 447.62L617.60 447.57L619.43 447.51L621.26 447.45L623.10 447.38L624.93 447.31L626.76 447.23L628.59 447.15L630.42 447.06L632.25 446.97L634.08 446.87L635.91 446.77L637.74 446.66L639.57 446.54L641.40 446.41L643.23 446.28L645.06 446.13L646.89 445.98L648.73 445.82L650.56 445.65L652.39 445.47L654.22 445.27L656.05 445.06L657.88 444.85L659.71 444.61L661.54 444.36L663.37 444.10L665.20 443.82L667.03 443.53L668.86 443.21L670.69 442.88L672.52 442.52L674.36 442.15L676.19 441.75L678.02 441.33L679.85 440.88L681.68 440.41L683.51 439.90L685.34 439.37L687.17 438.81L689.00 438.21L690.83 437.58L692.66 436.91L694.49 436.20L696.32 435.45L698.15 434.65L699.99 433.81L701.82 432.92L703.65 431.98L705.48 430.99L707.31 429.93L709.14 428.82L710.97 427.64L712.80 426.40L714.63 425.09L716.46 423.70L718.29 422.23L720.12 420.69L721.95 419.05L723.78 417.33L725.62 415.50L727.45 413.58L729.28 411.55L731.11 409.41L732.94 407.14L734.77 404.76L736.60 402.24L738.43 399.59L740.26 396.80L742.09 393.85L743.92 390.74L745.75 387.46L747.58 384.01L749.41 380.37L751.25 376.54L753.08 372.50L754.91 368.25L756.74 363.77L758.57 359.06L760.40 354.09L762.23 348.87L764.06 343.37L765.89 337.58L767.72 331.49L769.55 325.09L771.38 318.35L773.21 311.26L775.04 303.81L776.88 295.97L778.71 287.73L780.54 279.07L782.37 269.96L784.20 260.40L786.03 250.34L787.86 239.78L789.69 228.68L791.52 217.02L793.35 204.78L795.18 191.92L797.01 178.43L798.84 164.25L800.67 149.38L802.51 133.76L804.34 117.37L806.17 100.18L808.00 82.13L809.83 63.20L811.66 43.35L813.49 22.52" stroke="#ff0000"/>
</g>
<g id="inset-frame" fill="none">
<rect x="155.5" y="114.5" width="516.0" height="319.0" fill="#ffffff" stroke="none"/>
<path d="M155.5 114.5L671.5 114.5L671.5 433.5L155.5 433.5Z" stroke="#9c9c9c" stroke-width="1" fill="none" stroke-linejoin="miter"/>
<line x1="165.35" y1="433.5" x2="165.35" y2="427" stroke="#6e6e6e" stroke-width="0.9"/>
<line x1="181.87" y1="433.5" x2="181.87" y2="429.5" stroke="#6e6e6e" stroke-width="0.9"/>
<line x1="198.39" y1="433.5" x2="198.39" y2="429.5" stroke="#6e6e6e" stroke-width="0.9"/>
<line x1="214.91" y1="433.5" x2="214.91" y2="429.5" stroke="#6e6e6e" stroke-width="0.9"/>
<line x1="231.43" y1="433.5" x2="231.43" y2="429.5" stroke="#6e6e6e" stroke-width="0.9"/>
<line x1="247.95" y1="433.5" x2="247.95" y2="427" stroke="#6e6e6e" stroke-width="0.9"/>
<line x1="264.47" y1="433.5" x2="264.47" y2="429.5" stroke="#6e6e6e" stroke-width="0.9"/>
<line x1="280.99" y1="433.5" x2="280.99" y2="429.5" stroke="#6e6e6e" stroke-width="0.9"/>
<line x1="297.51" y1="433.5" x2="297.51" y2="429.5" stroke="#6e6e6e" stroke-width="0.9"/>
<line x1="314.03" y1="433.5" x2="314.03" y2="429.5" stroke="#6e6e6e" stroke-width="0.9"/>
<line x1="330.55" y1="433.5" x2="330.55" y2="427" stroke="#6e6e6e" stroke-width="0.9"/>
<line x1="347.07" y1="433.5" x2="347.07" y2="429.5" stroke="#6e6e6e" stroke-width="0.9"/>
<line x1="363.59" y1="433.5" x2="363.59" y2="429.5" stroke="#6e6e6e" stroke-width="0.9"/>
<line x1="380.11" y1="433.5" x2="380.11" y2="429.5" stroke="#6e6e6e" stroke-width="0.9"/>
<line x1="396.63" y1="433.5" x2="396.63" y2="429.5" stroke="#6e6e6e" stroke-width="0.9"/>
<line x1="413.15" y1="433.5" x2="413.15" y2="427" stroke="#6e6e6e" stroke-width="0.9"/>
<line x1="429.67" y1="433.5" x2="429.67" y2="429.5" stroke="#6e6e6e" stroke-width="0.9"/>
<line x1="446.19" y1="433.5" x2="446.19" y2="429.5" stroke="#6e6e6e" stroke-width="0.9"/>
<line x1="462.71" y1="433.5" x2="462.71" y2="429.5" stroke="#6e6e6e" stroke-width="0.9"/>
<line x1="479.23" y1="433.5" x2="479.23" y2="429.5" stroke="#6e6e6e" stroke-width="0.9"/>
<line x1="495.75" y1="433.5" x2="495.75" y2="427" stroke="#6e6e6e" stroke-width="0.9"/>
<line x1="512.27" y1="433.5" x2="512.27" y2="429.5" stroke="#6e6e6e" stroke-width="0.9"/>
<line x1="528.79" y1="433.5" x2="528.79" y2="429.5" stroke="#6e6e6e" stroke-width="0.9"/>
<line x1="545.31" y1="433.5" x2="545.31" y2="429.5" stroke="#6e6e6e" stroke-width="0.9"/>
<line x1="561.83" y1="433.5" x2="561.83" y2="429.5" stroke="#6e6e6e" stroke-width="0.9"/>
<line x1="578.35" y1="433.5" x2="578.35" y2="427" stroke="#6e6e6e" stroke-width="0.9"/>
<line x1="594.87" y1="433.5" x2="594.87" y2="429.5" stroke="#6e6e6e" stroke-width="0.9"/>
<line x1="611.39" y1="433.5" x2="611.39" y2="429.5" stroke="#6e6e6e" stroke-width="0.9"/>
<line x1="627.91" y1="433.5" x2="627.91" y2="429.5" stroke="#6e6e6e" stroke-width="0.9"/>
<line x1="644.43" y1="433.5" x2="644.43" y2="429.5" stroke="#6e6e6e" stroke-width="0.9"/>
<line x1="660.95" y1="433.5" x2="660.95" y2="427" stroke="#6e6e6e" stroke-width="0.9"/>
<line x1="165.35" y1="114.5" x2="165.35" y2="119.1" stroke="#6e6e6e" stroke-width="0.9"/>
<line x1="206.65" y1="114.5" x2="206.65" y2="119.1" stroke="#6e6e6e" stroke-width="0.9"/>
<line x1="247.95" y1="114.5" x2="247.95" y2="119.1" stroke="#6e6e6e" stroke-width="0.9"/>
<line x1="289.25" y1="114.5" x2="289.25" y2="119.1" stroke="#6e6e6e" stroke-width="0.9"/>
<line x1="330.55" y1="114.5" x2="330.55" y2="119.1" stroke="#6e6e6e" stroke-width="0.9"/>
<line x1="371.85" y1="114.5" x2="371.85" y2="119.1" stroke="#6e6e6e" stroke-width="0.9"/>
<line x1="413.15" y1="114.5" x2="413.15" y2="119.1" stroke="#6e6e6e" stroke-width="0.9"/>
<line x1="454.45" y1="114.5" x2="454.45" y2="119.1" stroke="#6e6e6e" stroke-width="0.9"/>
<line x1="495.75" y1="114.5" x2="495.75" y2="119.1" stroke="#6e6e6e" stroke-width="0.9"/>
<line x1="537.05" y1="114.5" x2="537.05" y2="119.1" stroke="#6e6e6e" stroke-width="0.9"/>
<line x1="578.35" y1="114.5" x2="578.35" y2="119.1" stroke="#6e6e6e" stroke-width="0.9"/>
<line x1="619.65" y1="114.5" x2="619.65" y2="119.1" stroke="#6e6e6e" stroke-width="0.9"/>
<line x1="660.95" y1="114.5" x2="660.95" y2="119.1" stroke="#6e6e6e" stroke-width="0.9"/>
<line x1="155.5" y1="426.39" x2="159" y2="426.39" stroke="#6e6e6e" stroke-width="0.9"/>
<line x1="155.5" y1="417.9" x2="161.7" y2="417.9" stroke="#6e6e6e" stroke-width="0.9"/>
<line x1="155.5" y1="409.41" x2="159" y2="409.41" stroke="#6e6e6e" stroke-width="0.9"/>
<line x1="155.5" y1="400.92" x2="159" y2="400.92" stroke="#6e6e6e" stroke-width="0.9"/>
<line x1="155.5" y1="392.44" x2="159" y2="392.44" stroke="#6e6e6e" stroke-width="0.9"/>
<line x1="155.5" y1="383.95" x2="159" y2="383.95" stroke="#6e6e6e" stroke-width="0.9"/>
<line x1="155.5" y1="375.46" x2="161.7" y2="375.46" stroke="#6e6e6e" stroke-width="0.9"/>
<line x1="155.5" y1="366.97" x2="159" y2="366.97" stroke="#6e6e6e" stroke-width="0.9"/>
<line x1="155.5" y1="358.48" x2="159" y2="358.48" stroke="#6e6e6e" stroke-width="0.9"/>
<line x1="155.5" y1="350" x2="159" y2="350" stroke="#6e6e6e" stroke-width="0.9"/>
<line x1="155.5" y1="341.51" x2="159" y2="341.51" stroke="#6e6e6e" stroke-width="0.9"/>
<line x1="155.5" y1="333.02" x2="161.7" y2="333.02" stroke="#6e6e6e" stroke-width="0.9"/>
<line x1="155.5" y1="324.53" x2="159" y2="324.53" stroke="#6e6e6e" stroke-width="0.9"/>
<line x1="155.5" y1="316.04" x2="159" y2="316.04" stroke="#6e6e6e" stroke-width="0.9"/>
<line x1="155.5" y1="307.56" x2="159" y2="307.56" stroke="#6e6e6e" stroke-width="0.9"/>
<line x1="155.5" y1="299.07" x2="159" y2="299.07" stroke="#6e6e6e" stroke-width="0.9"/>
<line x1="155.5" y1="290.58" x2="161.7" y2="290.58" stroke="#6e6e6e" stroke-width="0.9"/>
<line x1="155.5" y1="282.09" x2="159" y2="282.09" stroke="#6e6e6e" stroke-width="0.9"/>
<line x1="155.5" y1="273.6" x2="159" y2="273.6" stroke="#6e6e6e" stroke-width="0.9"/>
<line x1="155.5" y1="265.12" x2="159" y2="265.12" stroke="#6e6e6e" stroke-width="0.9"/>
<line x1="155.5" y1="256.63" x2="159" y2="256.63" stroke="#6e6e6e" stroke-width="0.9"/>
<line x1="155.5" y1="248.14" x2="161.7" y2="248.14" stroke="#6e6e6e" stroke-width="0.9"/>
<line x1="155.5" y1="239.65" x2="159" y2="239.65" stroke="#6e6e6e" stroke-width="0.9"/>
<line x1="155.5" y1="231.16" x2="159" y2="231.16" stroke="#6e6e6e" stroke-width="0.9"/>
<line x1="155.5" y1="222.68" x2="159" y2="222.68" stroke="#6e6e6e" stroke-width="0.9"/>
<line x1="155.5" y1="214.19" x2="159" y2="214.19" stroke="#6e6e6e" stroke-width="0.9"/>
<line x1="155.5" y1="205.7" x2="161.7" y2="205.7" stroke="#6e6e6e" stroke-width="0.9"/>
<line x1="155.5" y1="197.21" x2="159" y2="197.21" stroke="#6e6e6e" stroke-width="0.9"/>
<line x1="155.5" y1="188.72" x2="159" y2="188.72" stroke="#6e6e6e" stroke-width="0.9"/>
<line x1="155.5" y1="180.24" x2="159" y2="180.24" stroke="#6e6e6e" stroke-width="0.9"/>
<line x1="155.5" y1="171.75" x2="159" y2="171.75" stroke="#6e6e6e" stroke-width="0.9"/>
<line x1="155.5" y1="163.26" x2="161.7" y2="163.26" stroke="#6e6e6e" stroke-width="0.9"/>
<line x1="155.5" y1="154.77" x2="159" y2="154.77" stroke="#6e6e6e" stroke-width="0.9"/>
<line x1="155.5" y1="146.28" x2="159" y2="146.28" stroke="#6e6e6e" stroke-width="0.9"/>
<line x1="155.5" y1="137.8" x2="159" y2="137.8" stroke="#6e6e6e" stroke-width="0.9"/>
<line x1="155.5" y1="129.31" x2="159" y2="129.31" stroke="#6e6e6e" stroke-width="0.9"/>
<line x1="155.5" y1="120.82" x2="161.7" y2="120.82" stroke="#6e6e6e" stroke-width="0.9"/>
<line x1="671.5" y1="417.9" x2="666.5" y2="417.9" stroke="#6e6e6e" stroke-width="0.9"/>
<line x1="671.5" y1="396.68" x2="666.5" y2="396.68" stroke="#6e6e6e" stroke-width="0.9"/>
<line x1="671.5" y1="375.46" x2="666.5" y2="375.46" stroke="#6e6e6e" stroke-width="0.9"/>
<line x1="671.5" y1="354.24" x2="666.5" y2="354.24" stroke="#6e6e6e" stroke-width="0.9"/>
<line x1="671.5" y1="333.02" x2="666.5" y2="333.02" stroke="#6e6e6e" stroke-width="0.9"/>
<line x1="671.5" y1="311.8" x2="666.5" y2="311.8" stroke="#6e6e6e" stroke-width="0.9"/>
<line x1="671.5" y1="290.58" x2="666.5" y2="290.58" stroke="#6e6e6e" stroke-width="0.9"/>
<line x1="671.5" y1="269.36" x2="666.5" y2="269.36" stroke="#6e6e6e" stroke-width="0.9"/>
<line x1="671.5" y1="248.14" x2="666.5" y2="248.14" stroke="#6e6e6e" stroke-width="0.9"/>
<line x1="671.5" y1="226.92" x2="666.5" y2="226.92" stroke="#6e6e6e" stroke-width="0.9"/>
<line x1="671.5" y1="205.7" x2="666.5" y2="205.7" stroke="#6e6e6e" stroke-width="0.9"/>
<line x1="671.5" y1="184.48" x2="666.5" y2="184.48" stroke="#6e6e6e" stroke-width="0.9"/>
<line x1="671.5" y1="163.26" x2="666.5" y2="163.26" stroke="#6e6e6e" stroke-width="0.9"/>
<line x1="671.5" y1="142.04" x2="666.5" y2="142.04" stroke="#6e6e6e" stroke-width="0.9"/>
<line x1="671.5" y1="120.82" x2="666.5" y2="120.82" stroke="#6e6e6e" stroke-width="0.9"/>
</g>
<g id="inset-labels" font-family='"Liberation Sans", sans-serif'>
<text x="165.35" y="444.6" font-size="10.4" text-anchor="middle" font-weight="normal" font-style="normal" fill="#101010" stroke="#101010" stroke-width="0.2">24</text>
<text x="247.95" y="444.6" font-size="10.4" text-anchor="middle" font-weight="normal" font-style="normal" fill="#101010" stroke="#101010" stroke-width="0.2">25</text>
<text x="330.55" y="444.6" font-size="10.4" text-anchor="middle" font-weight="normal" font-style="normal" fill="#101010" stroke="#101010" stroke-width="0.2">26</text>
<text x="413.15" y="444.6" font-size="10.4" text-anchor="middle" font-weight="normal" font-style="normal" fill="#101010" stroke="#101010" stroke-width="0.2">27</text>
<text x="495.75" y="444.6" font-size="10.4" text-anchor="middle" font-weight="normal" font-style="normal" fill="#101010" stroke="#101010" stroke-width="0.2">28</text>
<text x="578.35" y="444.6" font-size="10.4" text-anchor="middle" font-weight="normal" font-style="normal" fill="#101010" stroke="#101010" stroke-width="0.2">29</text>
<text x="660.95" y="444.6" font-size="10.4" text-anchor="middle" font-weight="normal" font-style="normal" fill="#101010" stroke="#101010" stroke-width="0.2">30</text>
<text x="151.3" y="420.5" font-size="10.4" text-anchor="end" font-weight="normal" font-style="normal" fill="#101010" stroke="#101010" stroke-width="0.2">0</text>
<text x="116.34" y="379.96" font-size="10.4" text-anchor="start" font-weight="normal" font-style="normal" fill="#101010" stroke="#101010" stroke-width="0.2">1</text>
<text x="126.54" y="380.46" font-size="9.0" text-anchor="middle" font-weight="normal" font-style="normal" fill="#101010" stroke="#101010" stroke-width="0.35">×</text>
<text x="131.64" y="379.96" font-size="10.4" text-anchor="start" font-weight="normal" font-style="normal" fill="#101010" stroke="#101010" stroke-width="0.2">10</text>
<text x="142.84" y="376.26" font-size="7.6" text-anchor="start" font-weight="normal" font-style="normal" fill="#101010" stroke="#101010" stroke-width="0.18">25</text>
<text x="116.34" y="337.52" font-size="10.4" text-anchor="start" font-weight="normal" font-style="normal" fill="#101010" stroke="#101010" stroke-width="0.2">2</text>
<text x="126.54" y="338.02" font-size="9.0" text-anchor="middle" font-weight="normal" font-style="normal" fill="#101010" stroke="#101010" stroke-width="0.35">×</text>
<text x="131.64" y="337.52" font-size="10.4" text-anchor="start" font-weight="normal" font-style="normal" fill="#101010" stroke="#101010" stroke-width="0.2">10</text>
<text x="142.84" y="333.82" font-size="7.6" text-anchor="start" font-weight="normal" font-style="normal" fill="#101010" stroke="#101010" stroke-width="0.18">25</text>
<text x="116.34" y="295.08" font-size="10.4" text-anchor="start" font-weight="normal" font-style="normal" fill="#101010" stroke="#101010" stroke-width="0.2">3</text>
<text x="126.54" y="295.58" font-size="9.0" text-anchor="middle" font-weight="normal" font-style="normal" fill="#101010" stroke="#101010" stroke-width="0.35">×</text>
<text x="131.64" y="295.08" font-size="10.4" text-anchor="start" font-weight="normal" font-style="normal" fill="#101010" stroke="#101010" stroke-width="0.2">10</text>
<text x="142.84" y="291.38" font-size="7.6" text-anchor="start" font-weight="normal" font-style="normal" fill="#101010" stroke="#101010" stroke-width="0.18">25</text>
<text x="116.34" y="252.64" font-size="10.4" text-anchor="start" font-weight="normal" font-style="normal" fill="#101010" stroke="#101010" stroke-width="0.2">4</text>
<text x="126.54" y="253.14" font-size="9.0" text-anchor="middle" font-weight="normal" font-style="normal" fill="#101010" stroke="#101010" stroke-width="0.35">×</text>
<text x="131.64" y="252.64" font-size="10.4" text-anchor="start" font-weight="normal" font-style="normal" fill="#101010" stroke="#101010" stroke-width="0.2">10</text>
<text x="142.84" y="248.94" font-size="7.6" text-anchor="start" font-weight="normal" font-style="normal" fill="#101010" stroke="#101010" stroke-width="0.18">25</text>
<text x="116.34" y="210.2" font-size="10.4" text-anchor="start" font-weight="normal" font-style="normal" fill="#101010" stroke="#101010" stroke-width="0.2">5</text>
<text x="126.54" y="210.7" font-size="9.0" text-anchor="middle" font-weight="normal" font-style="normal" fill="#101010" stroke="#101010" stroke-width="0.35">×</text>
<text x="131.64" y="210.2" font-size="10.4" text-anchor="start" font-weight="normal" font-style="normal" fill="#101010" stroke="#101010" stroke-width="0.2">10</text>
<text x="142.84" y="206.5" font-size="7.6" text-anchor="start" font-weight="normal" font-style="normal" fill="#101010" stroke="#101010" stroke-width="0.18">25</text>
<text x="116.34" y="167.76" font-size="10.4" text-anchor="start" font-weight="normal" font-style="normal" fill="#101010" stroke="#101010" stroke-width="0.2">6</text>
<text x="126.54" y="168.26" font-size="9.0" text-anchor="middle" font-weight="normal" font-style="normal" fill="#101010" stroke="#101010" stroke-width="0.35">×</text>
<text x="131.64" y="167.76" font-size="10.4" text-anchor="start" font-weight="normal" font-style="normal" fill="#101010" stroke="#101010" stroke-width="0.2">10</text>
<text x="142.84" y="164.06" font-size="7.6" text-anchor="start" font-weight="normal" font-style="normal" fill="#101010" stroke="#101010" stroke-width="0.18">25</text>
<text x="116.34" y="125.32" font-size="10.4" text-anchor="start" font-weight="normal" font-style="normal" fill="#101010" stroke="#101010" stroke-width="0.2">7</text>
<text x="126.54" y="125.82" font-size="9.0" text-anchor="middle" font-weight="normal" font-style="normal" fill="#101010" stroke="#101010" stroke-width="0.35">×</text>
<text x="131.64" y="125.32" font-size="10.4" text-anchor="start" font-weight="normal" font-style="normal" fill="#101010" stroke="#101010" stroke-width="0.2">10</text>
<text x="142.84" y="121.62" font-size="7.6" text-anchor="start" font-weight="normal" font-style="normal" fill="#101010" stroke="#101010" stroke-width="0.18">25</text>
</g>
<g id="inset-curves" fill="none" stroke-width="2.5" stroke-linecap="butt" stroke-linejoin="round">
<path d="M164.52 417.24L166.18 417.23L167.83 417.22L169.49 417.20L171.14 417.19L172.80 417.18L174.45 417.17L176.11 417.16L177.76 417.14L179.42 417.13L181.07 417.12L182.73 417.10L184.38 417.09L186.04 417.08L187.69 417.06L189.35 417.05L191.00 417.04L192.65 417.02L194.31 417.01L195.96 416.99L197.62 416.98L199.27 416.96L200.93 416.95L202.58 416.93L204.24 416.91L205.89 416.90L207.55 416.88L209.20 416.87L210.86 416.85L212.51 416.83L214.17 416.81L215.82 416.80L217.48 416.78L219.13 416.76L220.79 416.74L222.44 416.72L224.10 416.70L225.75 416.68L227.40 416.66L229.06 416.64L230.71 416.62L232.37 416.60L234.02 416.58L235.68 416.56L237.33 416.54L238.99 416.51L240.64 416.49L242.30 416.47L243.95 416.45L245.61 416.42L247.26 416.40L248.92 416.37L250.57 416.35L252.23 416.33L253.88 416.30L255.54 416.27L257.19 416.25L258.84 416.22L260.50 416.19L262.15 416.17L263.81 416.14L265.46 416.11L267.12 416.08L268.77 416.05L270.43 416.02L272.08 415.99L273.74 415.96L275.39 415.93L277.05 415.90L278.70 415.87L280.36 415.84L282.01 415.80L283.67 415.77L285.32 415.74L286.98 415.70L288.63 415.67L290.29 415.63L291.94 415.60L293.59 415.56L295.25 415.52L296.90 415.49L298.56 415.45L300.21 415.41L301.87 415.37L303.52 415.33L305.18 415.29L306.83 415.25L308.49 415.21L310.14 415.16L311.80 415.12L313.45 415.08L315.11 415.03L316.76 414.99L318.42 414.94L320.07 414.90L321.73 414.85L323.38 414.80L325.04 414.76L326.69 414.71L328.34 414.66L330.00 414.61L331.65 414.55L333.31 414.50L334.96 414.45L336.62 414.40L338.27 414.34L339.93 414.29L341.58 414.23L343.24 414.18L344.89 414.12L346.55 414.06L348.20 414.00L349.86 413.94L351.51 413.88L353.17 413.82L354.82 413.75L356.48 413.69L358.13 413.63L359.78 413.56L361.44 413.49L363.09 413.43L364.75 413.36L366.40 413.29L368.06 413.22L369.71 413.15L371.37 413.08L373.02 413.00L374.68 412.93L376.33 412.85L377.99 412.77L379.64 412.70L381.30 412.62L382.95 412.54L384.61 412.46L386.26 412.37L387.92 412.29L389.57 412.21L391.23 412.12L392.88 412.03L394.53 411.94L396.19 411.85L397.84 411.76L399.50 411.67L401.15 411.58L402.81 411.48L404.46 411.39L406.12 411.29L407.77 411.19L409.43 411.09L411.08 410.99L412.74 410.88L414.39 410.78L416.05 410.67L417.70 410.56L419.36 410.45L421.01 410.34L422.67 410.23L424.32 410.12L425.98 410.00L427.63 409.88L429.28 409.76L430.94 409.64L432.59 409.52L434.25 409.40L435.90 409.27L437.56 409.14L439.21 409.01L440.87 408.88L442.52 408.75L444.18 408.62L445.83 408.48L447.49 408.34L449.14 408.20L450.80 408.06L452.45 407.91L454.11 407.77L455.76 407.62L457.42 407.47L459.07 407.31L460.72 407.16L462.38 407.00L464.03 406.84L465.69 406.68L467.34 406.52L469.00 406.35L470.65 406.18L472.31 406.01L473.96 405.84L475.62 405.66L477.27 405.48L478.93 405.30L480.58 405.12L482.24 404.94L483.89 404.75L485.55 404.56L487.20 404.36L488.86 404.17L490.51 403.97L492.17 403.77L493.82 403.57L495.47 403.36L497.13 403.15L498.78 402.94L500.44 402.72L502.09 402.50L503.75 402.28L505.40 402.06L507.06 401.83L508.71 401.60L510.37 401.37L512.02 401.13L513.68 400.89L515.33 400.65L516.99 400.40L518.64 400.15L520.30 399.90L521.95 399.64L523.61 399.38L525.26 399.12L526.91 398.85L528.57 398.58L530.22 398.30L531.88 398.03L533.53 397.74L535.19 397.46L536.84 397.17L538.50 396.88L540.15 396.58L541.81 396.28L543.46 395.97L545.12 395.66L546.77 395.35L548.43 395.03L550.08 394.71L551.74 394.38L553.39 394.05L555.05 393.72L556.70 393.38L558.36 393.03L560.01 392.68L561.66 392.33L563.32 391.97L564.97 391.61L566.63 391.24L568.28 390.87L569.94 390.49L571.59 390.11L573.25 389.72L574.90 389.33L576.56 388.93L578.21 388.53L579.87 388.12L581.52 387.70L583.18 387.29L584.83 386.86L586.49 386.43L588.14 385.99L589.80 385.55L591.45 385.10L593.11 384.65L594.76 384.19L596.41 383.73L598.07 383.25L599.72 382.78L601.38 382.29L603.03 381.80L604.69 381.30L606.34 380.80L608.00 380.29L609.65 379.77L611.31 379.25L612.96 378.72L614.62 378.18L616.27 377.64L617.93 377.09L619.58 376.53L621.24 375.97L622.89 375.39L624.55 374.81L626.20 374.22L627.85 373.63L629.51 373.03L631.16 372.41L632.82 371.80L634.47 371.17L636.13 370.53L637.78 369.89L639.44 369.24L641.09 368.58L642.75 367.91L644.40 367.23L646.06 366.55L647.71 365.85L649.37 365.15L651.02 364.44L652.68 363.72L654.33 362.99L655.99 362.25L657.64 361.50L659.30 360.74L660.95 359.97" stroke="#0000ff"/>
<path d="M164.52 416.58L166.18 416.55L167.83 416.53L169.49 416.51L171.14 416.48L172.80 416.46L174.45 416.44L176.11 416.41L177.76 416.39L179.42 416.36L181.07 416.34L182.73 416.31L184.38 416.28L186.04 416.26L187.69 416.23L189.35 416.20L191.00 416.17L192.65 416.14L194.31 416.11L195.96 416.09L197.62 416.06L199.27 416.02L200.93 415.99L202.58 415.96L204.24 415.93L205.89 415.90L207.55 415.86L209.20 415.83L210.86 415.80L212.51 415.76L214.17 415.73L215.82 415.69L217.48 415.66L219.13 415.62L220.79 415.58L222.44 415.54L224.10 415.50L225.75 415.47L227.40 415.43L229.06 415.39L230.71 415.34L232.37 415.30L234.02 415.26L235.68 415.22L237.33 415.17L238.99 415.13L240.64 415.08L242.30 415.04L243.95 414.99L245.61 414.95L247.26 414.90L248.92 414.85L250.57 414.80L252.23 414.75L253.88 414.70L255.54 414.65L257.19 414.60L258.84 414.54L260.50 414.49L262.15 414.43L263.81 414.38L265.46 414.32L267.12 414.26L268.77 414.21L270.43 414.15L272.08 414.09L273.74 414.03L275.39 413.96L277.05 413.90L278.70 413.84L280.36 413.77L282.01 413.71L283.67 413.64L285.32 413.57L286.98 413.51L288.63 413.44L290.29 413.36L291.94 413.29L293.59 413.22L295.25 413.15L296.90 413.07L298.56 413.00L300.21 412.92L301.87 412.84L303.52 412.76L305.18 412.68L306.83 412.60L308.49 412.51L310.14 412.43L311.80 412.34L313.45 412.26L315.11 412.17L316.76 412.08L318.42 411.99L320.07 411.90L321.73 411.80L323.38 411.71L325.04 411.61L326.69 411.51L328.34 411.41L330.00 411.31L331.65 411.21L333.31 411.11L334.96 411.00L336.62 410.89L338.27 410.79L339.93 410.68L341.58 410.56L343.24 410.45L344.89 410.34L346.55 410.22L348.20 410.10L349.86 409.98L351.51 409.86L353.17 409.73L354.82 409.61L356.48 409.48L358.13 409.35L359.78 409.22L361.44 409.09L363.09 408.95L364.75 408.82L366.40 408.68L368.06 408.54L369.71 408.40L371.37 408.25L373.02 408.10L374.68 407.95L376.33 407.80L377.99 407.65L379.64 407.49L381.30 407.34L382.95 407.18L384.61 407.01L386.26 406.85L387.92 406.68L389.57 406.51L391.23 406.34L392.88 406.17L394.53 405.99L396.19 405.81L397.84 405.63L399.50 405.44L401.15 405.25L402.81 405.06L404.46 404.87L406.12 404.68L407.77 404.48L409.43 404.28L411.08 404.07L412.74 403.87L414.39 403.66L416.05 403.44L417.70 403.23L419.36 403.01L421.01 402.79L422.67 402.56L424.32 402.33L425.98 402.10L427.63 401.87L429.28 401.63L430.94 401.39L432.59 401.14L434.25 400.90L435.90 400.64L437.56 400.39L439.21 400.13L440.87 399.87L442.52 399.60L444.18 399.33L445.83 399.06L447.49 398.78L449.14 398.50L450.80 398.21L452.45 397.92L454.11 397.63L455.76 397.33L457.42 397.03L459.07 396.73L460.72 396.42L462.38 396.10L464.03 395.78L465.69 395.46L467.34 395.13L469.00 394.80L470.65 394.46L472.31 394.12L473.96 393.78L475.62 393.42L477.27 393.07L478.93 392.71L480.58 392.34L482.24 391.97L483.89 391.60L485.55 391.21L487.20 390.83L488.86 390.44L490.51 390.04L492.17 389.64L493.82 389.23L495.47 388.82L497.13 388.40L498.78 387.97L500.44 387.54L502.09 387.11L503.75 386.66L505.40 386.22L507.06 385.76L508.71 385.30L510.37 384.83L512.02 384.36L513.68 383.88L515.33 383.39L516.99 382.90L518.64 382.40L520.30 381.89L521.95 381.38L523.61 380.86L525.26 380.33L526.91 379.80L528.57 379.26L530.22 378.71L531.88 378.15L533.53 377.59L535.19 377.02L536.84 376.44L538.50 375.85L540.15 375.26L541.81 374.65L543.46 374.04L545.12 373.42L546.77 372.80L548.43 372.16L550.08 371.52L551.74 370.86L553.39 370.20L555.05 369.53L556.70 368.85L558.36 368.16L560.01 367.47L561.66 366.76L563.32 366.04L564.97 365.32L566.63 364.58L568.28 363.84L569.94 363.08L571.59 362.32L573.25 361.54L574.90 360.76L576.56 359.96L578.21 359.15L579.87 358.34L581.52 357.51L583.18 356.67L584.83 355.82L586.49 354.96L588.14 354.09L589.80 353.20L591.45 352.31L593.11 351.40L594.76 350.48L596.41 349.55L598.07 348.61L599.72 347.65L601.38 346.68L603.03 345.70L604.69 344.71L606.34 343.70L608.00 342.68L609.65 341.65L611.31 340.60L612.96 339.54L614.62 338.47L616.27 337.38L617.93 336.28L619.58 335.16L621.24 334.03L622.89 332.88L624.55 331.72L626.20 330.55L627.85 329.36L629.51 328.15L631.16 326.93L632.82 325.69L634.47 324.44L636.13 323.17L637.78 321.88L639.44 320.58L641.09 319.26L642.75 317.92L644.40 316.57L646.06 315.20L647.71 313.81L649.37 312.40L651.02 310.98L652.68 309.54L654.33 308.07L655.99 306.59L657.64 305.09L659.30 303.58L660.95 302.04" stroke="#00ff00"/>
<path d="M164.52 415.91L166.18 415.88L167.83 415.85L169.49 415.81L171.14 415.78L172.80 415.74L174.45 415.70L176.11 415.67L177.76 415.63L179.42 415.59L181.07 415.55L182.73 415.51L184.38 415.47L186.04 415.43L187.69 415.39L189.35 415.35L191.00 415.31L192.65 415.27L194.31 415.22L195.96 415.18L197.62 415.13L199.27 415.09L200.93 415.04L202.58 414.99L204.24 414.94L205.89 414.90L207.55 414.85L209.20 414.80L210.86 414.75L212.51 414.69L214.17 414.64L215.82 414.59L217.48 414.53L219.13 414.48L220.79 414.42L222.44 414.36L224.10 414.31L225.75 414.25L227.40 414.19L229.06 414.13L230.71 414.07L232.37 414.00L234.02 413.94L235.68 413.88L237.33 413.81L238.99 413.74L240.64 413.68L242.30 413.61L243.95 413.54L245.61 413.47L247.26 413.40L248.92 413.32L250.57 413.25L252.23 413.18L253.88 413.10L255.54 413.02L257.19 412.94L258.84 412.86L260.50 412.78L262.15 412.70L263.81 412.62L265.46 412.53L267.12 412.45L268.77 412.36L270.43 412.27L272.08 412.18L273.74 412.09L275.39 412.00L277.05 411.90L278.70 411.81L280.36 411.71L282.01 411.61L283.67 411.51L285.32 411.41L286.98 411.31L288.63 411.20L290.29 411.10L291.94 410.99L293.59 410.88L295.25 410.77L296.90 410.66L298.56 410.54L300.21 410.43L301.87 410.31L303.52 410.19L305.18 410.07L306.83 409.95L308.49 409.82L310.14 409.69L311.80 409.57L313.45 409.43L315.11 409.30L316.76 409.17L318.42 409.03L320.07 408.89L321.73 408.75L323.38 408.61L325.04 408.47L326.69 408.32L328.34 408.17L330.00 408.02L331.65 407.86L333.31 407.71L334.96 407.55L336.62 407.39L338.27 407.23L339.93 407.06L341.58 406.90L343.24 406.73L344.89 406.55L346.55 406.38L348.20 406.20L349.86 406.02L351.51 405.84L353.17 405.65L354.82 405.46L356.48 405.27L358.13 405.08L359.78 404.88L361.44 404.68L363.09 404.48L364.75 404.28L366.40 404.07L368.06 403.86L369.71 403.64L371.37 403.43L373.02 403.20L374.68 402.98L376.33 402.75L377.99 402.52L379.64 402.29L381.30 402.05L382.95 401.81L384.61 401.57L386.26 401.32L387.92 401.07L389.57 400.82L391.23 400.56L392.88 400.30L394.53 400.03L396.19 399.76L397.84 399.49L399.50 399.21L401.15 398.93L402.81 398.65L404.46 398.36L406.12 398.06L407.77 397.77L409.43 397.47L411.08 397.16L412.74 396.85L414.39 396.53L416.05 396.22L417.70 395.89L419.36 395.56L421.01 395.23L422.67 394.89L424.32 394.55L425.98 394.20L427.63 393.85L429.28 393.49L430.94 393.13L432.59 392.76L434.25 392.39L435.90 392.02L437.56 391.63L439.21 391.24L440.87 390.85L442.52 390.45L444.18 390.05L445.83 389.64L447.49 389.22L449.14 388.80L450.80 388.37L452.45 387.94L454.11 387.50L455.76 387.05L457.42 386.60L459.07 386.14L460.72 385.67L462.38 385.20L464.03 384.72L465.69 384.24L467.34 383.75L469.00 383.25L470.65 382.74L472.31 382.23L473.96 381.71L475.62 381.19L477.27 380.65L478.93 380.11L480.58 379.56L482.24 379.01L483.89 378.44L485.55 377.87L487.20 377.29L488.86 376.71L490.51 376.11L492.17 375.51L493.82 374.90L495.47 374.28L497.13 373.65L498.78 373.01L500.44 372.36L502.09 371.71L503.75 371.05L505.40 370.37L507.06 369.69L508.71 369.00L510.37 368.30L512.02 367.59L513.68 366.87L515.33 366.14L516.99 365.40L518.64 364.65L520.30 363.89L521.95 363.12L523.61 362.34L525.26 361.55L526.91 360.75L528.57 359.94L530.22 359.11L531.88 358.28L533.53 357.43L535.19 356.58L536.84 355.71L538.50 354.83L540.15 353.93L541.81 353.03L543.46 352.11L545.12 351.19L546.77 350.25L548.43 349.29L550.08 348.33L551.74 347.35L553.39 346.35L555.05 345.35L556.70 344.33L558.36 343.30L560.01 342.25L561.66 341.19L563.32 340.12L564.97 339.03L566.63 337.92L568.28 336.81L569.94 335.67L571.59 334.53L573.25 333.36L574.90 332.19L576.56 330.99L578.21 329.78L579.87 328.56L581.52 327.31L583.18 326.06L584.83 324.78L586.49 323.49L588.14 322.18L589.80 320.86L591.45 319.51L593.11 318.15L594.76 316.77L596.41 315.38L598.07 313.96L599.72 312.53L601.38 311.08L603.03 309.60L604.69 308.11L606.34 306.60L608.00 305.07L609.65 303.52L611.31 301.95L612.96 300.36L614.62 298.75L616.27 297.12L617.93 295.47L619.58 293.79L621.24 292.10L622.89 290.38L624.55 288.64L626.20 286.87L627.85 285.09L629.51 283.28L631.16 281.44L632.82 279.59L634.47 277.71L636.13 275.80L637.78 273.87L639.44 271.92L641.09 269.94L642.75 267.93L644.40 265.90L646.06 263.85L647.71 261.76L649.37 259.65L651.02 257.52L652.68 255.35L654.33 253.16L655.99 250.94L657.64 248.69L659.30 246.41L660.95 244.11" stroke="#ff8000"/>
<path d="M164.52 415.25L166.18 415.21L167.83 415.16L169.49 415.11L171.14 415.07L172.80 415.02L174.45 414.97L176.11 414.92L177.76 414.87L179.42 414.82L181.07 414.77L182.73 414.72L184.38 414.67L186.04 414.61L187.69 414.56L189.35 414.50L191.00 414.45L192.65 414.39L194.31 414.33L195.96 414.27L197.62 414.21L199.27 414.15L200.93 414.09L202.58 414.02L204.24 413.96L205.89 413.89L207.55 413.83L209.20 413.76L210.86 413.69L212.51 413.62L214.17 413.55L215.82 413.48L217.48 413.41L219.13 413.34L220.79 413.26L222.44 413.19L224.10 413.11L225.75 413.03L227.40 412.95L229.06 412.87L230.71 412.79L232.37 412.71L234.02 412.62L235.68 412.53L237.33 412.45L238.99 412.36L240.64 412.27L242.30 412.18L243.95 412.09L245.61 411.99L247.26 411.90L248.92 411.80L250.57 411.70L252.23 411.60L253.88 411.50L255.54 411.40L257.19 411.29L258.84 411.18L260.50 411.08L262.15 410.97L263.81 410.86L265.46 410.74L267.12 410.63L268.77 410.51L270.43 410.39L272.08 410.27L273.74 410.15L275.39 410.03L277.05 409.90L278.70 409.78L280.36 409.65L282.01 409.52L283.67 409.38L285.32 409.25L286.98 409.11L288.63 408.97L290.29 408.83L291.94 408.69L293.59 408.54L295.25 408.39L296.90 408.24L298.56 408.09L300.21 407.94L301.87 407.78L303.52 407.62L305.18 407.46L306.83 407.29L308.49 407.13L310.14 406.96L311.80 406.79L313.45 406.61L315.11 406.44L316.76 406.26L318.42 406.08L320.07 405.89L321.73 405.70L323.38 405.51L325.04 405.32L326.69 405.12L328.34 404.93L330.00 404.72L331.65 404.52L333.31 404.31L334.96 404.10L336.62 403.89L338.27 403.67L339.93 403.45L341.58 403.23L343.24 403.00L344.89 402.77L346.55 402.54L348.20 402.30L349.86 402.06L351.51 401.82L353.17 401.57L354.82 401.32L356.48 401.06L358.13 400.81L359.78 400.54L361.44 400.28L363.09 400.01L364.75 399.73L366.40 399.46L368.06 399.18L369.71 398.89L371.37 398.60L373.02 398.31L374.68 398.01L376.33 397.71L377.99 397.40L379.64 397.09L381.30 396.77L382.95 396.45L384.61 396.13L386.26 395.80L387.92 395.46L389.57 395.12L391.23 394.78L392.88 394.43L394.53 394.08L396.19 393.72L397.84 393.35L399.50 392.98L401.15 392.61L402.81 392.23L404.46 391.84L406.12 391.45L407.77 391.06L409.43 390.65L411.08 390.25L412.74 389.83L414.39 389.41L416.05 388.99L417.70 388.56L419.36 388.12L421.01 387.67L422.67 387.22L424.32 386.77L425.98 386.30L427.63 385.84L429.28 385.36L430.94 384.88L432.59 384.39L434.25 383.89L435.90 383.39L437.56 382.88L439.21 382.36L440.87 381.83L442.52 381.30L444.18 380.76L445.83 380.21L447.49 379.66L449.14 379.10L450.80 378.53L452.45 377.95L454.11 377.36L455.76 376.77L457.42 376.16L459.07 375.55L460.72 374.93L462.38 374.30L464.03 373.66L465.69 373.02L467.34 372.36L469.00 371.70L470.65 371.03L472.31 370.34L473.96 369.65L475.62 368.95L477.27 368.24L478.93 367.52L480.58 366.78L482.24 366.04L483.89 365.29L485.55 364.53L487.20 363.76L488.86 362.97L490.51 362.18L492.17 361.38L493.82 360.56L495.47 359.73L497.13 358.90L498.78 358.05L500.44 357.19L502.09 356.31L503.75 355.43L505.40 354.53L507.06 353.62L508.71 352.70L510.37 351.77L512.02 350.82L513.68 349.86L515.33 348.89L516.99 347.90L518.64 346.90L520.30 345.89L521.95 344.86L523.61 343.82L525.26 342.77L526.91 341.70L528.57 340.62L530.22 339.52L531.88 338.40L533.53 337.28L535.19 336.13L536.84 334.98L538.50 333.80L540.15 332.61L541.81 331.41L543.46 330.19L545.12 328.95L546.77 327.69L548.43 326.42L550.08 325.13L551.74 323.83L553.39 322.51L555.05 321.16L556.70 319.81L558.36 318.43L560.01 317.03L561.66 315.62L563.32 314.19L564.97 312.74L566.63 311.27L568.28 309.78L569.94 308.27L571.59 306.74L573.25 305.18L574.90 303.61L576.56 302.02L578.21 300.41L579.87 298.78L581.52 297.12L583.18 295.44L584.83 293.74L586.49 292.02L588.14 290.28L589.80 288.51L591.45 286.72L593.11 284.90L594.76 283.06L596.41 281.20L598.07 279.32L599.72 277.40L601.38 275.47L603.03 273.51L604.69 271.52L606.34 269.50L608.00 267.47L609.65 265.40L611.31 263.31L612.96 261.18L614.62 259.04L616.27 256.86L617.93 254.66L619.58 252.42L621.24 250.16L622.89 247.87L624.55 245.55L626.20 243.20L627.85 240.82L629.51 238.40L631.16 235.96L632.82 233.48L634.47 230.98L636.13 228.44L637.78 225.86L639.44 223.26L641.09 220.62L642.75 217.95L644.40 215.24L646.06 212.50L647.71 209.72L649.37 206.91L651.02 204.06L652.68 201.17L654.33 198.25L655.99 195.29L657.64 192.29L659.30 189.25L660.95 186.18" stroke="#000000"/>
<path d="M164.52 414.59L166.18 414.53L167.83 414.48L169.49 414.42L171.14 414.36L172.80 414.30L174.45 414.24L176.11 414.18L177.76 414.12L179.42 414.05L181.07 413.99L182.73 413.92L184.38 413.86L186.04 413.79L187.69 413.72L189.35 413.65L191.00 413.58L192.65 413.51L194.31 413.44L195.96 413.36L197.62 413.29L199.27 413.21L200.93 413.13L202.58 413.05L204.24 412.97L205.89 412.89L207.55 412.81L209.20 412.73L210.86 412.64L212.51 412.56L214.17 412.47L215.82 412.38L217.48 412.29L219.13 412.20L220.79 412.10L222.44 412.01L224.10 411.91L225.75 411.81L227.40 411.71L229.06 411.61L230.71 411.51L232.37 411.41L234.02 411.30L235.68 411.19L237.33 411.08L238.99 410.97L240.64 410.86L242.30 410.75L243.95 410.63L245.61 410.51L247.26 410.39L248.92 410.27L250.57 410.15L252.23 410.03L253.88 409.90L255.54 409.77L257.19 409.64L258.84 409.51L260.50 409.37L262.15 409.23L263.81 409.10L265.46 408.95L267.12 408.81L268.77 408.67L270.43 408.52L272.08 408.37L273.74 408.22L275.39 408.06L277.05 407.90L278.70 407.75L280.36 407.58L282.01 407.42L283.67 407.25L285.32 407.08L286.98 406.91L288.63 406.74L290.29 406.56L291.94 406.38L293.59 406.20L295.25 406.02L296.90 405.83L298.56 405.64L300.21 405.44L301.87 405.25L303.52 405.05L305.18 404.85L306.83 404.64L308.49 404.43L310.14 404.22L311.80 404.01L313.45 403.79L315.11 403.57L316.76 403.35L318.42 403.12L320.07 402.89L321.73 402.65L323.38 402.42L325.04 402.18L326.69 401.93L328.34 401.68L330.00 401.43L331.65 401.17L333.31 400.91L334.96 400.65L336.62 400.38L338.27 400.11L339.93 399.84L341.58 399.56L343.24 399.28L344.89 398.99L346.55 398.70L348.20 398.40L349.86 398.10L351.51 397.80L353.17 397.49L354.82 397.17L356.48 396.86L358.13 396.53L359.78 396.20L361.44 395.87L363.09 395.54L364.75 395.19L366.40 394.85L368.06 394.49L369.71 394.14L371.37 393.78L373.02 393.41L374.68 393.04L376.33 392.66L377.99 392.27L379.64 391.88L381.30 391.49L382.95 391.09L384.61 390.68L386.26 390.27L387.92 389.85L389.57 389.43L391.23 389.00L392.88 388.56L394.53 388.12L396.19 387.67L397.84 387.22L399.50 386.75L401.15 386.29L402.81 385.81L404.46 385.33L406.12 384.84L407.77 384.34L409.43 383.84L411.08 383.33L412.74 382.82L414.39 382.29L416.05 381.76L417.70 381.22L419.36 380.67L421.01 380.12L422.67 379.55L424.32 378.98L425.98 378.41L427.63 377.82L429.28 377.22L430.94 376.62L432.59 376.01L434.25 375.39L435.90 374.76L437.56 374.12L439.21 373.47L440.87 372.82L442.52 372.15L444.18 371.48L445.83 370.79L447.49 370.10L449.14 369.40L450.80 368.68L452.45 367.96L454.11 367.23L455.76 366.48L457.42 365.73L459.07 364.96L460.72 364.19L462.38 363.40L464.03 362.61L465.69 361.80L467.34 360.98L469.00 360.15L470.65 359.31L472.31 358.45L473.96 357.59L475.62 356.71L477.27 355.82L478.93 354.92L480.58 354.01L482.24 353.08L483.89 352.14L485.55 351.19L487.20 350.22L488.86 349.24L490.51 348.25L492.17 347.25L493.82 346.23L495.47 345.19L497.13 344.14L498.78 343.08L500.44 342.01L502.09 340.92L503.75 339.81L505.40 338.69L507.06 337.55L508.71 336.40L510.37 335.23L512.02 334.05L513.68 332.85L515.33 331.63L516.99 330.40L518.64 329.15L520.30 327.89L521.95 326.60L523.61 325.30L525.26 323.98L526.91 322.65L528.57 321.29L530.22 319.92L531.88 318.53L533.53 317.12L535.19 315.69L536.84 314.25L538.50 312.78L540.15 311.29L541.81 309.78L543.46 308.26L545.12 306.71L546.77 305.14L548.43 303.55L550.08 301.94L551.74 300.31L553.39 298.66L555.05 296.98L556.70 295.28L558.36 293.56L560.01 291.82L561.66 290.05L563.32 288.26L564.97 286.45L566.63 284.61L568.28 282.74L569.94 280.86L571.59 278.94L573.25 277.01L574.90 275.04L576.56 273.05L578.21 271.04L579.87 268.99L581.52 266.92L583.18 264.83L584.83 262.70L586.49 260.55L588.14 258.37L589.80 256.16L591.45 253.92L593.11 251.65L594.76 249.36L596.41 247.03L598.07 244.67L599.72 242.28L601.38 239.86L603.03 237.41L604.69 234.92L606.34 232.41L608.00 229.86L609.65 227.27L611.31 224.66L612.96 222.01L614.62 219.32L616.27 216.60L617.93 213.85L619.58 211.05L621.24 208.23L622.89 205.36L624.55 202.46L626.20 199.52L627.85 196.54L629.51 193.53L631.16 190.47L632.82 187.38L634.47 184.25L636.13 181.07L637.78 177.86L639.44 174.60L641.09 171.30L642.75 167.96L644.40 164.57L646.06 161.15L647.71 157.67L649.37 154.16L651.02 150.60L652.68 146.99L654.33 143.33L655.99 139.63L657.64 135.89L659.30 132.09L660.95 128.25" stroke="#ff0000"/>
</g>
<g id="legend" font-family='"Liberation Sans", sans-serif'>
<line x1="351.7" y1="48" x2="375.5" y2="48" stroke="#0000ff" stroke-width="2.5"/>
<text x="382.9" y="52" font-size="11.2" text-anchor="start" font-weight="normal" font-style="normal" fill="#101010" stroke="#101010" stroke-width="0.2"><tspan font-size="9.6">−</tspan><tspan dx="0.2">0.1</tspan></text>
<line x1="420.6" y1="48" x2="444.1" y2="48" stroke="#00ff00" stroke-width="2.5"/>
<text x="451.3" y="52" font-size="11.2" text-anchor="start" font-weight="normal" font-style="normal" fill="#101010" stroke="#101010" stroke-width="0.2"><tspan font-size="9.6">−</tspan><tspan dx="0.2">0.2</tspan></text>
<line x1="489.5" y1="48" x2="513" y2="48" stroke="#ff8000" stroke-width="2.5"/>
<text x="520.1" y="52" font-size="11.2" text-anchor="start" font-weight="normal" font-style="normal" fill="#101010" stroke="#101010" stroke-width="0.2"><tspan font-size="9.6">−</tspan><tspan dx="0.2">0.3</tspan></text>
<line x1="386.2" y1="94.9" x2="409.9" y2="94.9" stroke="#000000" stroke-width="2.5"/>
<text x="416.8" y="98.9" font-size="11.2" text-anchor="start" font-weight="normal" font-style="normal" fill="#101010" stroke="#101010" stroke-width="0.2"><tspan font-size="9.6">−</tspan><tspan dx="0.2">0.4</tspan></text>
<line x1="455.1" y1="94.9" x2="478.5" y2="94.9" stroke="#ff0000" stroke-width="2.5"/>
<text x="485.7" y="98.9" font-size="11.2" text-anchor="start" font-weight="normal" font-style="normal" fill="#101010" stroke="#101010" stroke-width="0.2"><tspan font-size="9.6">−</tspan><tspan dx="0.2">0.5</tspan></text>
</g>
<g id="titles" font-family='"Liberation Sans", sans-serif'>
<text x="447.5" y="509.6" font-size="16" text-anchor="middle" font-weight="bold" font-style="normal" fill="#101010" stroke="#101010" stroke-width="0.2">t</text>
<g transform="translate(15.4,240.7) rotate(-90)">
<text x="0" y="0" font-size="16" text-anchor="start" font-weight="bold" font-style="italic" fill="#000" stroke="#000" stroke-width="0.2">ρ</text>
</g>
<g transform="translate(7.3,239.2) rotate(-90) scale(1,1.6)">
<text x="0" y="0" font-size="11" text-anchor="start" font-weight="bold" font-style="normal" fill="#000" stroke="#000" stroke-width="0.2">~</text>
</g>
</g>
</svg>
</body>
</html>
